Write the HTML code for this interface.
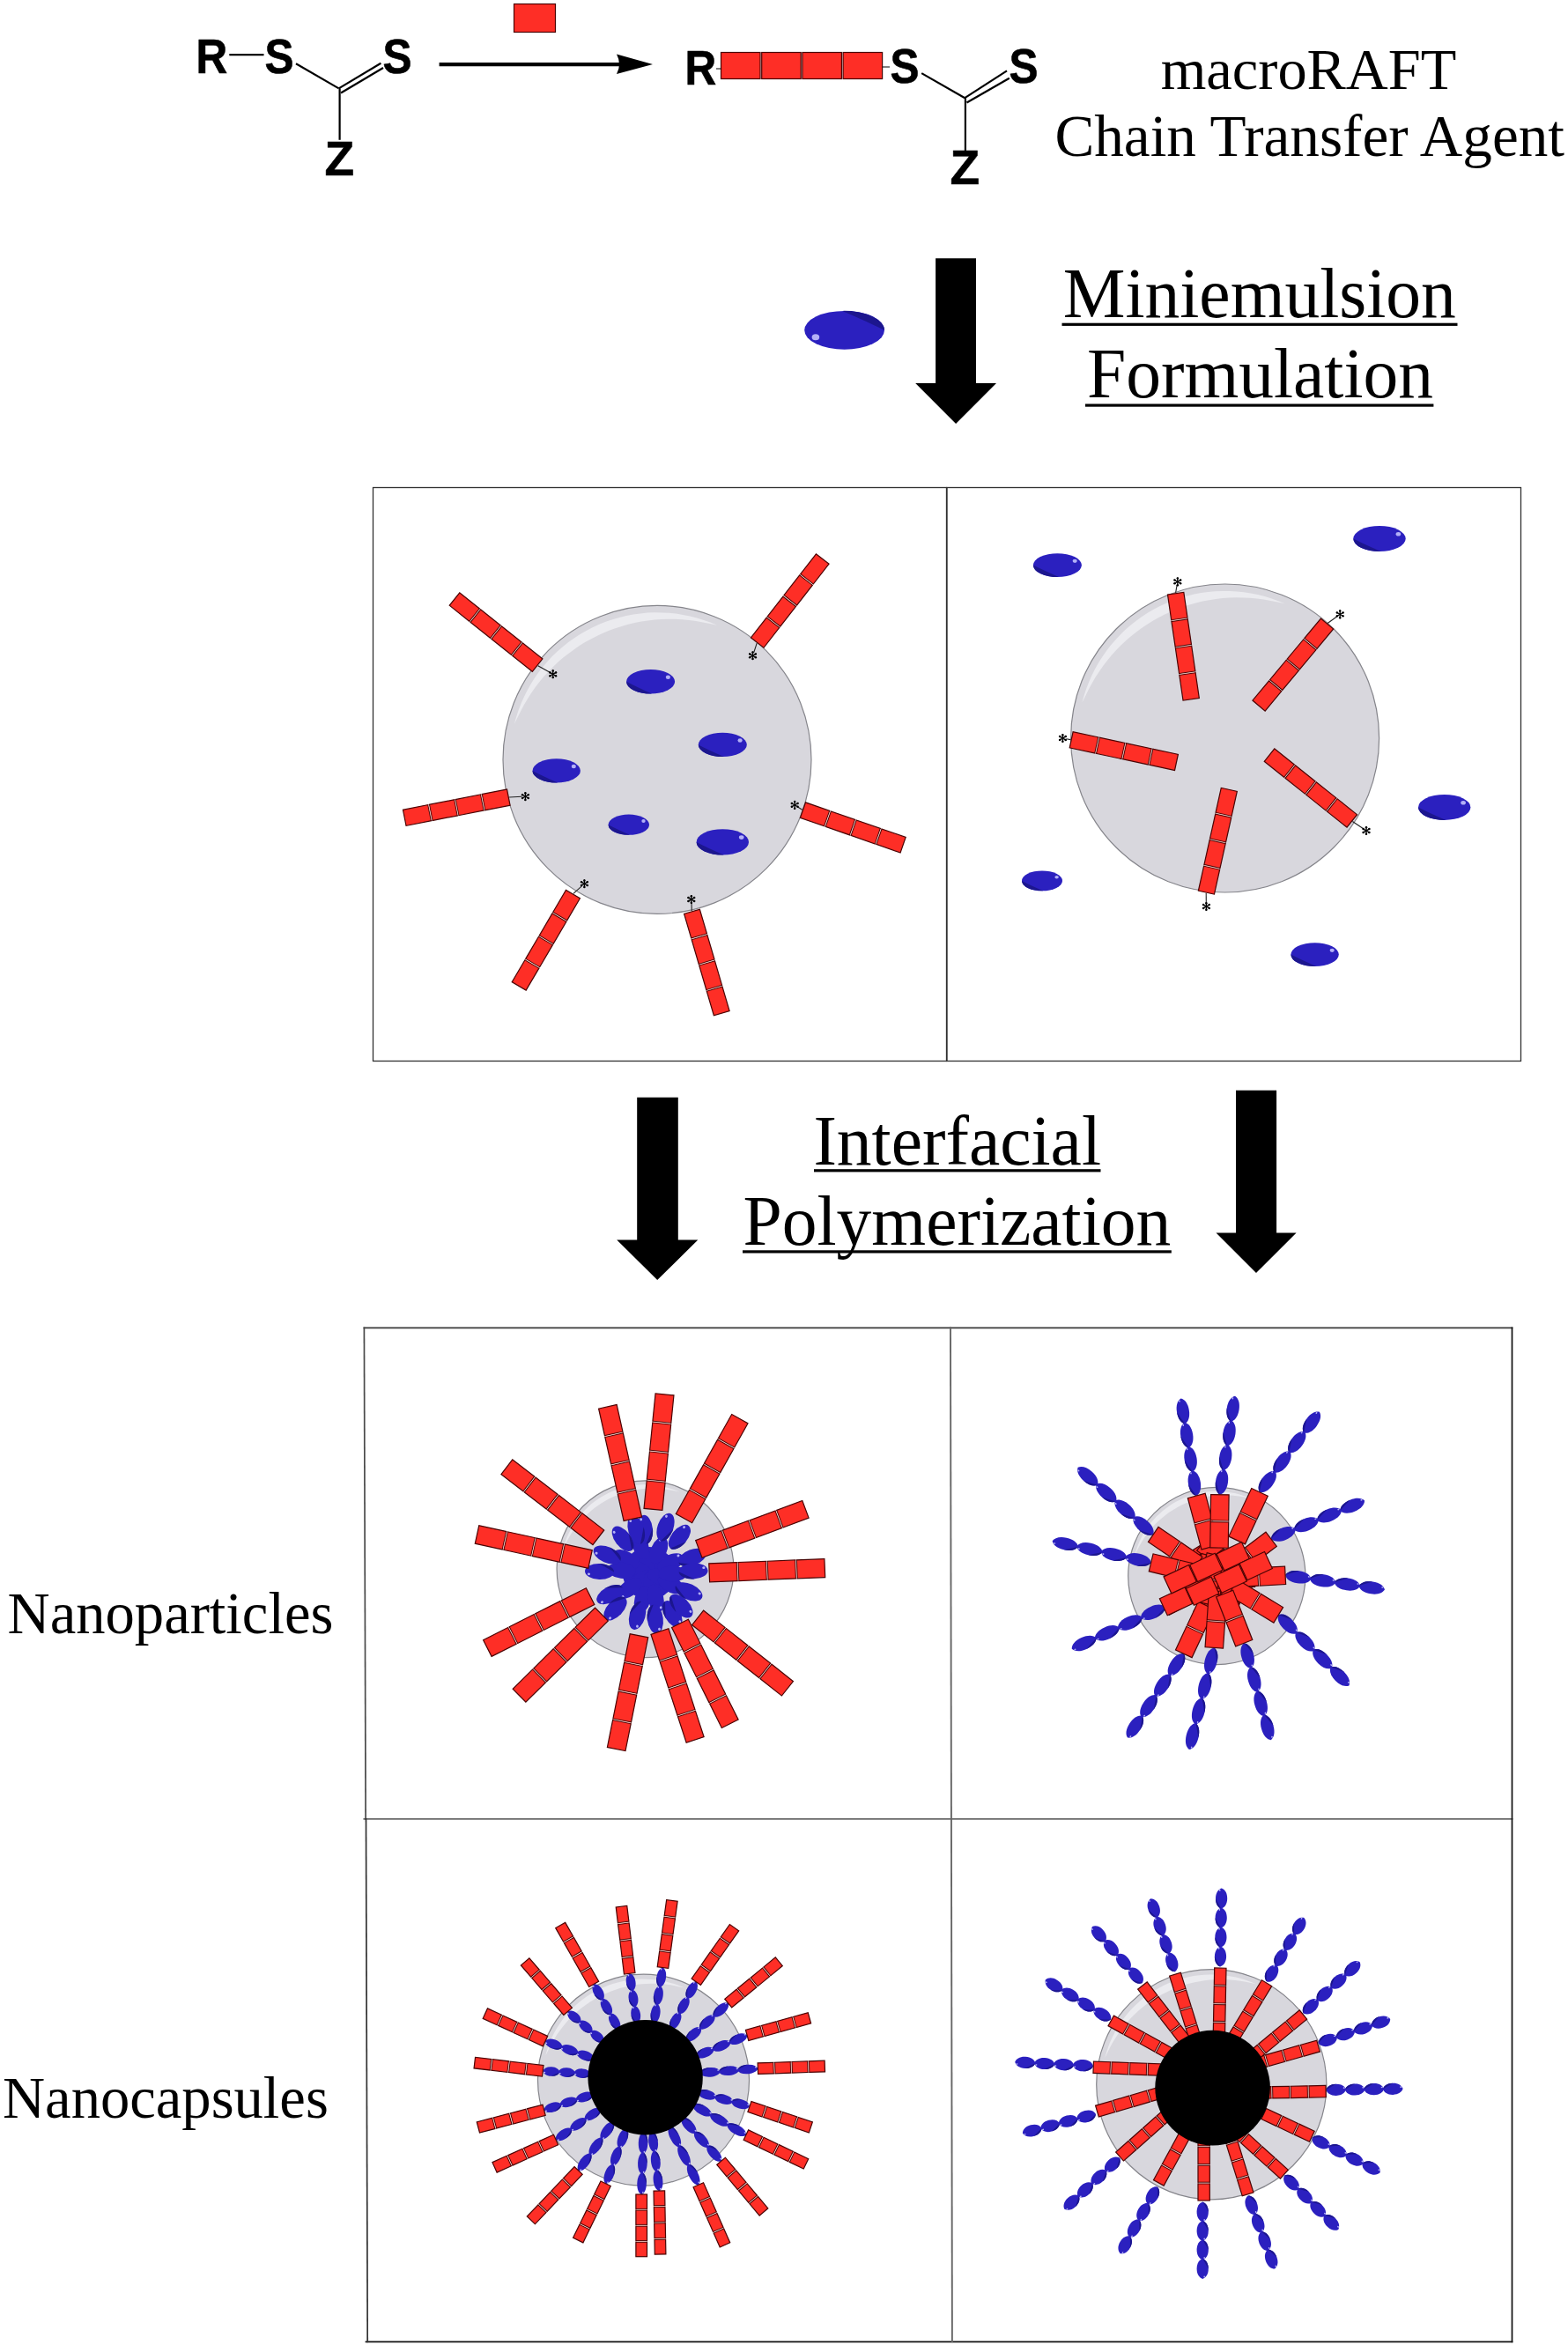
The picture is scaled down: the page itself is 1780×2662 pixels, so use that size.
<!DOCTYPE html><html><head><meta charset="utf-8"><style>
html,body{margin:0;padding:0;background:#fff;}
svg{display:block;}
.m{fill:#fe2e26;stroke:#4a0404;stroke-width:1.2;}
.b{fill:#2b20bf;}
.g{stroke:#ffd0c8;stroke-width:0.65;fill:none;}
.serif{font-family:"Liberation Serif",serif;fill:#000;}
.sans{font-family:"Liberation Sans",sans-serif;font-weight:bold;fill:#000;}
</style></head><body>
<svg width="1780" height="2662" viewBox="0 0 1780 2662">
<rect width="1780" height="2662" fill="#fff"/>

<text transform="translate(222.5 82.6) scale(0.9 1)" class="sans" font-size="55" stroke="#000" stroke-width="0.6">R</text>
<text transform="translate(300.5 82.6) scale(0.9 1)" class="sans" font-size="55" stroke="#000" stroke-width="0.6">S</text>
<text transform="translate(434.5 82.6) scale(0.9 1)" class="sans" font-size="55" stroke="#000" stroke-width="0.6">S</text>
<text transform="translate(368.5 199) scale(1 1)" class="sans" font-size="55" stroke="#000" stroke-width="0.6">Z</text>
<text transform="translate(777.5 95.8) scale(0.9 1)" class="sans" font-size="55" stroke="#000" stroke-width="0.6">R</text>
<text transform="translate(1010.5 94.4) scale(0.9 1)" class="sans" font-size="55" stroke="#000" stroke-width="0.6">S</text>
<text transform="translate(1145.5 93.5) scale(0.9 1)" class="sans" font-size="55" stroke="#000" stroke-width="0.6">S</text>
<text transform="translate(1078.5 209.4) scale(1 1)" class="sans" font-size="55" stroke="#000" stroke-width="0.6">Z</text>
<line x1="260.3" y1="62.2" x2="299.5" y2="62.2" stroke="#000" stroke-width="2.2"/>
<line x1="336" y1="72.3" x2="384.6" y2="100.4" stroke="#000" stroke-width="2.2"/>
<line x1="385.6" y1="100.4" x2="385.6" y2="158.8" stroke="#000" stroke-width="2.2"/>
<line x1="384.6" y1="100.4" x2="432.4" y2="71.7" stroke="#000" stroke-width="2.2"/>
<line x1="387" y1="105.5" x2="435" y2="77" stroke="#000" stroke-width="2.2"/>
<rect x="583.5" y="4.5" width="47" height="32" class="m"/>
<line x1="498.6" y1="73.1" x2="712" y2="73.1" stroke="#000" stroke-width="4.2"/>
<path d="M741 73 L700 61.5 Q706 73 700 84 Z" fill="#000"/>
<rect x="818.5" y="59.5" width="44.5" height="30" class="m"/>
<rect x="864.7" y="59.5" width="44.5" height="30" class="m"/>
<rect x="910.9" y="59.5" width="44.5" height="30" class="m"/>
<rect x="957.1" y="59.5" width="44.5" height="30" class="m"/>
<line x1="813" y1="78" x2="818.5" y2="78" stroke="#000" stroke-width="1"/>
<line x1="1002" y1="76" x2="1010" y2="76" stroke="#000" stroke-width="1"/>
<line x1="1046.2" y1="83.1" x2="1095.3" y2="111.2" stroke="#000" stroke-width="2.2"/>
<line x1="1095.9" y1="111.2" x2="1095.9" y2="171.5" stroke="#000" stroke-width="2.2"/>
<line x1="1095.3" y1="111.2" x2="1143" y2="80.3" stroke="#000" stroke-width="2.2"/>
<line x1="1097.5" y1="116.5" x2="1145.8" y2="88.7" stroke="#000" stroke-width="2.2"/>
<g class="serif" text-anchor="middle"><text x="1485.5" y="100.8" font-size="66.4">macroRAFT</text><text x="1486.7" y="177.3" font-size="67.2">Chain Transfer Agent</text></g>
<g transform="translate(958.6 374.8) rotate(180)"><ellipse rx="45.4" ry="21.9" class="b"/><path d="M-45.4 0A45.4 21.9 0 0 0 2.3 21.9Q-27.2 9.2 -45.4 0Z" fill="#1c168e"/><ellipse cx="32.7" cy="-7.9" rx="4.3" ry="3.5" fill="#b3b0f7"/></g>
<polygon points="1062.1,293.2 1108,293.2 1108,435 1131,435 1085.1,481 1039.2,435 1062.1,435" fill="#000"/>
<g class="serif" font-size="79.5" text-anchor="middle"><text x="1429.8" y="359.5">Miniemulsion</text><text x="1430.5" y="451.3">Formulation</text></g>
<rect x="1205.5" y="366.7" width="449" height="3.2" fill="#000"/>
<rect x="1232" y="458.5" width="395.4" height="3.2" fill="#000"/>
<rect x="423.5" y="553.5" width="651" height="651" fill="none" stroke="#303030" stroke-width="1.3"/>
<rect x="1075" y="553.5" width="651.5" height="651" fill="none" stroke="#303030" stroke-width="1.3"/>
<circle cx="746" cy="862.4" r="175" fill="#d8d7dd" stroke="#85858b" stroke-width="1.2"/>
<path d="M583.8 822 L586 814.2 L588.5 806.5 L591.4 798.9 L594.7 791.5 L598.3 784.2 L602.2 777.2 L606.5 770.3 L611.2 763.6 L616.1 757.2 L621.4 751.1 L626.9 745.1 L632.7 739.5 L638.8 734.2 L645.2 729.1 L651.7 724.4 L658.5 720 L665.5 715.9 L672.7 712.2 L680.1 708.8 L687.6 705.8 L695.3 703.2 L703.1 700.9 L710.9 699 L718.9 697.5 L726.9 696.4 L735 695.6 L743.1 695.3 L751.2 695.4 L759.3 695.8 L767.3 696.6 L775.3 697.9 L783.3 699.5 L791.1 701.5 L798.9 703.9 L806.5 706.6 L814 709.7 L814 709.7 L805.9 708 L798 706.4 L790.1 705 L782.3 704 L774.4 703.2 L766.5 702.8 L758.7 702.7 L750.9 703 L743.2 703.5 L735.6 704.4 L728 705.6 L720.5 707 L713 708.8 L705.7 710.9 L698.5 713.2 L691.4 715.8 L684.4 718.8 L677.5 721.9 L670.8 725.4 L664.1 729.1 L657.7 733.1 L651.4 737.4 L645.3 741.9 L639.3 746.6 L633.5 751.6 L627.9 756.9 L622.5 762.4 L617.3 768.1 L612.4 774.1 L607.6 780.3 L603.1 786.8 L598.8 793.4 L594.8 800.3 L591 807.4 L587.5 814.6 L583.8 822Z" fill="#ebebef"/>
<g transform="translate(738.6 773.8) rotate(0)"><ellipse rx="27.5" ry="13.8" class="b"/><path d="M-27.5 0A27.5 13.8 0 0 0 1.4 13.8Q-16.5 5.8 -27.5 0Z" fill="#1c168e"/><ellipse cx="19.8" cy="-5" rx="2.6" ry="2.2" fill="#b3b0f7"/></g>
<g transform="translate(820.3 845.4) rotate(0)"><ellipse rx="27.5" ry="13.6" class="b"/><path d="M-27.5 0A27.5 13.6 0 0 0 1.4 13.6Q-16.5 5.7 -27.5 0Z" fill="#1c168e"/><ellipse cx="19.8" cy="-4.9" rx="2.6" ry="2.2" fill="#b3b0f7"/></g>
<g transform="translate(631.7 874.9) rotate(0)"><ellipse rx="27.2" ry="13.6" class="b"/><path d="M-27.2 0A27.2 13.6 0 0 0 1.4 13.6Q-16.3 5.7 -27.2 0Z" fill="#1c168e"/><ellipse cx="19.6" cy="-4.9" rx="2.6" ry="2.2" fill="#b3b0f7"/></g>
<g transform="translate(713.8 936.2) rotate(0)"><ellipse rx="23.2" ry="11.6" class="b"/><path d="M-23.2 0A23.2 11.6 0 0 0 1.2 11.6Q-13.9 4.9 -23.2 0Z" fill="#1c168e"/><ellipse cx="16.7" cy="-4.2" rx="2.2" ry="1.9" fill="#b3b0f7"/></g>
<g transform="translate(820.3 955.9) rotate(0)"><ellipse rx="29.7" ry="14.7" class="b"/><path d="M-29.7 0A29.7 14.7 0 0 0 1.5 14.7Q-17.8 6.2 -29.7 0Z" fill="#1c168e"/><ellipse cx="21.4" cy="-5.3" rx="2.8" ry="2.4" fill="#b3b0f7"/></g>
<g transform="translate(610.7 755.7) rotate(-141.4)"><rect x="0.8" y="-9.2" width="28.9" height="18.5" class="m"/><rect x="31.3" y="-9.2" width="28.9" height="18.5" class="m"/><rect x="61.8" y="-9.2" width="28.9" height="18.5" class="m"/><rect x="92.3" y="-9.2" width="28.9" height="18.5" class="m"/><path d="M30.5 -8.6V8.6M61 -8.6V8.6M91.5 -8.6V8.6" class="g"/></g>
<line x1="610.7" y1="755.7" x2="624.2" y2="763.3" stroke="#222" stroke-width="1.1"/>
<path d="M627.7 760.5L627.7 770.1M623.5 762.9L631.9 767.7M631.9 762.9L623.5 767.7" stroke="#000" stroke-width="1.3"/><circle cx="627.7" cy="769.1" r="1.25" fill="#000"/><circle cx="627.7" cy="761.5" r="1.25" fill="#000"/><circle cx="631" cy="767.2" r="1.25" fill="#000"/><circle cx="624.4" cy="763.4" r="1.25" fill="#000"/><circle cx="624.4" cy="767.2" r="1.25" fill="#000"/><circle cx="631" cy="763.4" r="1.25" fill="#000"/>
<g transform="translate(859.2 730.2) rotate(-52.1)"><rect x="0.8" y="-9.2" width="28.9" height="18.5" class="m"/><rect x="31.3" y="-9.2" width="28.9" height="18.5" class="m"/><rect x="61.9" y="-9.2" width="28.9" height="18.5" class="m"/><rect x="92.4" y="-9.2" width="28.9" height="18.5" class="m"/><path d="M30.5 -8.6V8.6M61.1 -8.6V8.6M91.6 -8.6V8.6" class="g"/></g>
<line x1="859.2" y1="730.2" x2="855.8" y2="740.5" stroke="#222" stroke-width="1.1"/>
<path d="M854.5 739.5L854.5 749.1M850.3 741.9L858.7 746.7M858.7 741.9L850.3 746.7" stroke="#000" stroke-width="1.3"/><circle cx="854.5" cy="748.1" r="1.25" fill="#000"/><circle cx="854.5" cy="740.5" r="1.25" fill="#000"/><circle cx="857.8" cy="746.2" r="1.25" fill="#000"/><circle cx="851.2" cy="742.4" r="1.25" fill="#000"/><circle cx="851.2" cy="746.2" r="1.25" fill="#000"/><circle cx="857.8" cy="742.4" r="1.25" fill="#000"/>
<g transform="translate(578.1 905) rotate(168.9)"><rect x="0.8" y="-9.2" width="28.9" height="18.5" class="m"/><rect x="31.3" y="-9.2" width="28.9" height="18.5" class="m"/><rect x="61.7" y="-9.2" width="28.9" height="18.5" class="m"/><rect x="92.2" y="-9.2" width="28.9" height="18.5" class="m"/><path d="M30.5 -8.6V8.6M60.9 -8.6V8.6M91.4 -8.6V8.6" class="g"/></g>
<line x1="578.1" y1="905" x2="592.4" y2="904.3" stroke="#222" stroke-width="1.1"/>
<path d="M596.4 899.3L596.4 908.9M592.2 901.7L600.6 906.5M600.6 901.7L592.2 906.5" stroke="#000" stroke-width="1.3"/><circle cx="596.4" cy="907.9" r="1.25" fill="#000"/><circle cx="596.4" cy="900.3" r="1.25" fill="#000"/><circle cx="599.7" cy="906" r="1.25" fill="#000"/><circle cx="593.1" cy="902.2" r="1.25" fill="#000"/><circle cx="593.1" cy="906" r="1.25" fill="#000"/><circle cx="599.7" cy="902.2" r="1.25" fill="#000"/>
<g transform="translate(910.7 919.3) rotate(19.2)"><rect x="0.8" y="-9.2" width="28.9" height="18.5" class="m"/><rect x="31.3" y="-9.2" width="28.9" height="18.5" class="m"/><rect x="61.8" y="-9.2" width="28.9" height="18.5" class="m"/><rect x="92.3" y="-9.2" width="28.9" height="18.5" class="m"/><path d="M30.5 -8.6V8.6M61 -8.6V8.6M91.5 -8.6V8.6" class="g"/></g>
<line x1="910.7" y1="919.3" x2="905.6" y2="916" stroke="#222" stroke-width="1.1"/>
<path d="M902.2 909.1L902.2 918.7M898 911.5L906.4 916.3M906.4 911.5L898 916.3" stroke="#000" stroke-width="1.3"/><circle cx="902.2" cy="917.7" r="1.25" fill="#000"/><circle cx="902.2" cy="910.1" r="1.25" fill="#000"/><circle cx="905.5" cy="915.8" r="1.25" fill="#000"/><circle cx="898.9" cy="912" r="1.25" fill="#000"/><circle cx="898.9" cy="915.8" r="1.25" fill="#000"/><circle cx="905.5" cy="912" r="1.25" fill="#000"/>
<g transform="translate(650.9 1014.4) rotate(120.4)"><rect x="0.8" y="-9.2" width="29.1" height="18.5" class="m"/><rect x="31.5" y="-9.2" width="29.1" height="18.5" class="m"/><rect x="62.1" y="-9.2" width="29.1" height="18.5" class="m"/><rect x="92.8" y="-9.2" width="29.1" height="18.5" class="m"/><path d="M30.7 -8.6V8.6M61.3 -8.6V8.6M92 -8.6V8.6" class="g"/></g>
<line x1="650.9" y1="1014.4" x2="660.4" y2="1005.9" stroke="#222" stroke-width="1.1"/>
<path d="M663.4 998.4L663.4 1008M659.2 1000.8L667.6 1005.6M667.6 1000.8L659.2 1005.6" stroke="#000" stroke-width="1.3"/><circle cx="663.4" cy="1007" r="1.25" fill="#000"/><circle cx="663.4" cy="999.4" r="1.25" fill="#000"/><circle cx="666.7" cy="1005.1" r="1.25" fill="#000"/><circle cx="660.1" cy="1001.3" r="1.25" fill="#000"/><circle cx="660.1" cy="1005.1" r="1.25" fill="#000"/><circle cx="666.7" cy="1001.3" r="1.25" fill="#000"/>
<g transform="translate(785.3 1034) rotate(73.7)"><rect x="0.8" y="-9.2" width="28.9" height="18.5" class="m"/><rect x="31.3" y="-9.2" width="28.9" height="18.5" class="m"/><rect x="61.8" y="-9.2" width="28.9" height="18.5" class="m"/><rect x="92.2" y="-9.2" width="28.9" height="18.5" class="m"/><path d="M30.5 -8.6V8.6M61 -8.6V8.6M91.4 -8.6V8.6" class="g"/></g>
<line x1="785.3" y1="1034" x2="785" y2="1025" stroke="#222" stroke-width="1.1"/>
<path d="M784.8 1016.2L784.8 1025.8M780.6 1018.6L789 1023.4M789 1018.6L780.6 1023.4" stroke="#000" stroke-width="1.3"/><circle cx="784.8" cy="1024.8" r="1.25" fill="#000"/><circle cx="784.8" cy="1017.2" r="1.25" fill="#000"/><circle cx="788.1" cy="1022.9" r="1.25" fill="#000"/><circle cx="781.5" cy="1019.1" r="1.25" fill="#000"/><circle cx="781.5" cy="1022.9" r="1.25" fill="#000"/><circle cx="788.1" cy="1019.1" r="1.25" fill="#000"/>
<circle cx="1390.6" cy="838" r="175" fill="#d8d7dd" stroke="#85858b" stroke-width="1.2"/>
<path d="M1228.4 797.6 L1230.6 789.8 L1233.1 782.1 L1236 774.5 L1239.3 767.1 L1242.9 759.8 L1246.8 752.8 L1251.1 745.9 L1255.8 739.2 L1260.7 732.8 L1266 726.7 L1271.5 720.7 L1277.3 715.1 L1283.4 709.8 L1289.8 704.7 L1296.3 700 L1303.1 695.6 L1310.1 691.5 L1317.3 687.8 L1324.7 684.4 L1332.2 681.4 L1339.9 678.8 L1347.7 676.5 L1355.5 674.6 L1363.5 673.1 L1371.5 672 L1379.6 671.2 L1387.7 670.9 L1395.8 671 L1403.9 671.4 L1411.9 672.2 L1419.9 673.5 L1427.9 675.1 L1435.7 677.1 L1443.5 679.5 L1451.1 682.2 L1458.6 685.3 L1458.6 685.3 L1450.5 683.6 L1442.6 682 L1434.7 680.6 L1426.9 679.6 L1419 678.8 L1411.1 678.4 L1403.3 678.3 L1395.5 678.6 L1387.8 679.1 L1380.2 680 L1372.6 681.2 L1365.1 682.6 L1357.6 684.4 L1350.3 686.5 L1343.1 688.8 L1336 691.4 L1329 694.4 L1322.1 697.5 L1315.4 701 L1308.7 704.7 L1302.3 708.7 L1296 713 L1289.9 717.5 L1283.9 722.2 L1278.1 727.2 L1272.5 732.5 L1267.1 738 L1261.9 743.7 L1257 749.7 L1252.2 755.9 L1247.7 762.4 L1243.4 769 L1239.4 775.9 L1235.6 783 L1232.1 790.2 L1228.4 797.6Z" fill="#ebebef"/>
<g transform="translate(1200.4 641.6) rotate(0)"><ellipse rx="27.5" ry="13.4" class="b"/><path d="M-27.5 0A27.5 13.4 0 0 0 1.4 13.4Q-16.5 5.6 -27.5 0Z" fill="#1c168e"/><ellipse cx="19.8" cy="-4.8" rx="2.6" ry="2.1" fill="#b3b0f7"/></g>
<g transform="translate(1566 611.5) rotate(0)"><ellipse rx="29.7" ry="14.5" class="b"/><path d="M-29.7 0A29.7 14.5 0 0 0 1.5 14.5Q-17.8 6.1 -29.7 0Z" fill="#1c168e"/><ellipse cx="21.4" cy="-5.2" rx="2.8" ry="2.3" fill="#b3b0f7"/></g>
<g transform="translate(1639.7 916.4) rotate(0)"><ellipse rx="29.7" ry="14.5" class="b"/><path d="M-29.7 0A29.7 14.5 0 0 0 1.5 14.5Q-17.8 6.1 -29.7 0Z" fill="#1c168e"/><ellipse cx="21.4" cy="-5.2" rx="2.8" ry="2.3" fill="#b3b0f7"/></g>
<g transform="translate(1183 999.9) rotate(0)"><ellipse rx="23" ry="11.4" class="b"/><path d="M-23 0A23 11.4 0 0 0 1.2 11.4Q-13.8 4.8 -23 0Z" fill="#1c168e"/><ellipse cx="16.6" cy="-4.1" rx="2.2" ry="1.8" fill="#b3b0f7"/></g>
<g transform="translate(1492.6 1083.6) rotate(0)"><ellipse rx="27.2" ry="13.4" class="b"/><path d="M-27.2 0A27.2 13.4 0 0 0 1.4 13.4Q-16.3 5.6 -27.2 0Z" fill="#1c168e"/><ellipse cx="19.6" cy="-4.8" rx="2.6" ry="2.1" fill="#b3b0f7"/></g>
<g transform="translate(1334.6 672.9) rotate(81.7)"><rect x="0.8" y="-9.2" width="29.1" height="18.5" class="m"/><rect x="31.5" y="-9.2" width="29.1" height="18.5" class="m"/><rect x="62.2" y="-9.2" width="29.1" height="18.5" class="m"/><rect x="93" y="-9.2" width="29.1" height="18.5" class="m"/><path d="M30.7 -8.6V8.6M61.4 -8.6V8.6M92.2 -8.6V8.6" class="g"/></g>
<line x1="1334.6" y1="672.9" x2="1336.1" y2="664.3" stroke="#222" stroke-width="1.1"/>
<path d="M1336.8 655.6L1336.8 665.2M1332.6 658L1341 662.8M1341 658L1332.6 662.8" stroke="#000" stroke-width="1.3"/><circle cx="1336.8" cy="664.2" r="1.25" fill="#000"/><circle cx="1336.8" cy="656.6" r="1.25" fill="#000"/><circle cx="1340.1" cy="662.3" r="1.25" fill="#000"/><circle cx="1333.5" cy="658.5" r="1.25" fill="#000"/><circle cx="1333.5" cy="662.3" r="1.25" fill="#000"/><circle cx="1340.1" cy="658.5" r="1.25" fill="#000"/>
<g transform="translate(1507.1 707.5) rotate(129.8)"><rect x="0.8" y="-9.2" width="29.1" height="18.5" class="m"/><rect x="31.5" y="-9.2" width="29.1" height="18.5" class="m"/><rect x="62.1" y="-9.2" width="29.1" height="18.5" class="m"/><rect x="92.8" y="-9.2" width="29.1" height="18.5" class="m"/><path d="M30.7 -8.6V8.6M61.3 -8.6V8.6M92 -8.6V8.6" class="g"/></g>
<line x1="1507.1" y1="707.5" x2="1517.9" y2="699.7" stroke="#222" stroke-width="1.1"/>
<path d="M1521.2 692.6L1521.2 702.2M1517 695L1525.4 699.8M1525.4 695L1517 699.8" stroke="#000" stroke-width="1.3"/><circle cx="1521.2" cy="701.2" r="1.25" fill="#000"/><circle cx="1521.2" cy="693.6" r="1.25" fill="#000"/><circle cx="1524.5" cy="699.3" r="1.25" fill="#000"/><circle cx="1517.9" cy="695.5" r="1.25" fill="#000"/><circle cx="1517.9" cy="699.3" r="1.25" fill="#000"/><circle cx="1524.5" cy="695.5" r="1.25" fill="#000"/>
<g transform="translate(1215.4 839.6) rotate(12.1)"><rect x="0.8" y="-9.2" width="29.3" height="18.5" class="m"/><rect x="31.7" y="-9.2" width="29.3" height="18.5" class="m"/><rect x="62.6" y="-9.2" width="29.3" height="18.5" class="m"/><rect x="93.5" y="-9.2" width="29.3" height="18.5" class="m"/><path d="M30.9 -8.6V8.6M61.8 -8.6V8.6M92.7 -8.6V8.6" class="g"/></g>
<line x1="1215.4" y1="839.6" x2="1210.3" y2="838.7" stroke="#222" stroke-width="1.1"/>
<path d="M1206.4 833.2L1206.4 842.8M1202.2 835.6L1210.6 840.4M1210.6 835.6L1202.2 840.4" stroke="#000" stroke-width="1.3"/><circle cx="1206.4" cy="841.8" r="1.25" fill="#000"/><circle cx="1206.4" cy="834.2" r="1.25" fill="#000"/><circle cx="1209.7" cy="839.9" r="1.25" fill="#000"/><circle cx="1203.1" cy="836.1" r="1.25" fill="#000"/><circle cx="1203.1" cy="839.9" r="1.25" fill="#000"/><circle cx="1209.7" cy="836.1" r="1.25" fill="#000"/>
<g transform="translate(1535.4 932.5) rotate(-141.4)"><rect x="0.8" y="-9.2" width="28.8" height="18.5" class="m"/><rect x="31.2" y="-9.2" width="28.8" height="18.5" class="m"/><rect x="61.6" y="-9.2" width="28.8" height="18.5" class="m"/><rect x="92" y="-9.2" width="28.8" height="18.5" class="m"/><path d="M30.4 -8.6V8.6M60.8 -8.6V8.6M91.2 -8.6V8.6" class="g"/></g>
<line x1="1535.4" y1="932.5" x2="1547.7" y2="940.8" stroke="#222" stroke-width="1.1"/>
<path d="M1551 938.2L1551 947.8M1546.8 940.6L1555.2 945.4M1555.2 940.6L1546.8 945.4" stroke="#000" stroke-width="1.3"/><circle cx="1551" cy="946.8" r="1.25" fill="#000"/><circle cx="1551" cy="939.2" r="1.25" fill="#000"/><circle cx="1554.3" cy="944.9" r="1.25" fill="#000"/><circle cx="1547.7" cy="941.1" r="1.25" fill="#000"/><circle cx="1547.7" cy="944.9" r="1.25" fill="#000"/><circle cx="1554.3" cy="941.1" r="1.25" fill="#000"/>
<g transform="translate(1369.2 1013.9) rotate(-77.5)"><rect x="0.8" y="-9.2" width="28.7" height="18.5" class="m"/><rect x="31.1" y="-9.2" width="28.7" height="18.5" class="m"/><rect x="61.4" y="-9.2" width="28.7" height="18.5" class="m"/><rect x="91.7" y="-9.2" width="28.7" height="18.5" class="m"/><path d="M30.3 -8.6V8.6M60.6 -8.6V8.6M90.9 -8.6V8.6" class="g"/></g>
<line x1="1369.2" y1="1013.9" x2="1369.3" y2="1025" stroke="#222" stroke-width="1.1"/>
<path d="M1369.4 1024.2L1369.4 1033.8M1365.2 1026.6L1373.6 1031.4M1373.6 1026.6L1365.2 1031.4" stroke="#000" stroke-width="1.3"/><circle cx="1369.4" cy="1032.8" r="1.25" fill="#000"/><circle cx="1369.4" cy="1025.2" r="1.25" fill="#000"/><circle cx="1372.7" cy="1030.9" r="1.25" fill="#000"/><circle cx="1366.1" cy="1027.1" r="1.25" fill="#000"/><circle cx="1366.1" cy="1030.9" r="1.25" fill="#000"/><circle cx="1372.7" cy="1027.1" r="1.25" fill="#000"/>
<polygon points="723.2,1245.7 769.8,1245.7 769.8,1407.5 792.3,1407.5 746.2,1453 700.2,1407.5 723.2,1407.5" fill="#000"/>
<polygon points="1403,1237.7 1449.1,1237.7 1449.1,1399.5 1471.6,1399.5 1426,1445 1380.5,1399.5 1403,1399.5" fill="#000"/>
<g class="serif" font-size="79.5" text-anchor="middle"><text x="1086.7" y="1321.8">Interfacial</text><text x="1086.4" y="1412.9">Polymerization</text></g>
<rect x="924" y="1327.2" width="325.5" height="3.2" fill="#000"/>
<rect x="843" y="1419.3" width="486.8" height="3.2" fill="#000"/>
<g fill="none" stroke-width="1.7" stroke-linecap="square">
<line x1="413.4" y1="1507.3" x2="1716.5" y2="1507.3" stroke="#3a3a3a"/>
<line x1="415.5" y1="2658.4" x2="1716.5" y2="2658.4" stroke="#111"/>
<line x1="413.4" y1="2064.9" x2="1716.5" y2="2064.9" stroke="#6a6a6a" stroke-width="1.9"/>
<line x1="413.4" y1="1507.3" x2="415.1" y2="2064.9" stroke="#4a4a4a"/>
<line x1="415.5" y1="2064.9" x2="417.2" y2="2658.4" stroke="#333"/>
<line x1="1079" y1="1507.3" x2="1080.9" y2="2658.4" stroke="#666" stroke-width="1.9"/>
<line x1="1716.5" y1="1507.3" x2="1716.5" y2="2658.4" stroke="#111"/>
</g>
<g class="serif" font-size="66.6"><text x="8.6" y="1853.7">Nanoparticles</text><text x="3" y="2403.6">Nanocapsules</text></g>
<circle cx="732.5" cy="1781.2" r="100.4" fill="#d8d7dd" stroke="#85858b" stroke-width="1.2"/>
<path d="M639.5 1758 L640.7 1753.5 L642.1 1749.1 L643.8 1744.8 L645.7 1740.5 L647.8 1736.4 L650 1732.3 L652.5 1728.4 L655.1 1724.5 L658 1720.9 L661 1717.3 L664.2 1713.9 L667.5 1710.7 L671 1707.6 L674.6 1704.7 L678.4 1702 L682.3 1699.5 L686.3 1697.2 L690.5 1695 L694.7 1693.1 L699 1691.4 L703.4 1689.8 L707.9 1688.5 L712.4 1687.5 L717 1686.6 L721.6 1685.9 L726.2 1685.5 L730.8 1685.3 L735.5 1685.4 L740.1 1685.6 L744.7 1686.1 L749.3 1686.8 L753.9 1687.7 L758.4 1688.9 L762.8 1690.2 L767.2 1691.8 L771.5 1693.6 L771.5 1693.6 L766.9 1692.6 L762.4 1691.7 L757.8 1690.9 L753.3 1690.3 L748.8 1689.9 L744.3 1689.6 L739.8 1689.6 L735.3 1689.7 L730.9 1690 L726.5 1690.5 L722.2 1691.2 L717.8 1692.1 L713.6 1693.1 L709.4 1694.3 L705.2 1695.6 L701.2 1697.1 L697.1 1698.8 L693.2 1700.6 L689.3 1702.6 L685.5 1704.7 L681.8 1707 L678.2 1709.5 L674.7 1712 L671.3 1714.8 L668 1717.7 L664.7 1720.7 L661.7 1723.8 L658.7 1727.1 L655.8 1730.6 L653.1 1734.1 L650.5 1737.8 L648.1 1741.6 L645.8 1745.6 L643.6 1749.6 L641.5 1753.8 L639.5 1758Z" fill="#ebebef"/>
<circle cx="737" cy="1786" r="30" fill="#2b20bf"/>
<g transform="translate(746.2 1778.3) rotate(320)"><ellipse rx="14" ry="8.5" class="b"/><ellipse cx="10.1" cy="-3.1" rx="1.3" ry="1.4" fill="#b3b0f7"/></g>
<g transform="translate(734.9 1774.2) rotate(260)"><ellipse rx="14" ry="8.5" class="b"/><ellipse cx="10.1" cy="-3.1" rx="1.3" ry="1.4" fill="#b3b0f7"/></g>
<g transform="translate(725.7 1781.9) rotate(200)"><ellipse rx="14" ry="8.5" class="b"/><ellipse cx="10.1" cy="-3.1" rx="1.3" ry="1.4" fill="#b3b0f7"/></g>
<g transform="translate(727.8 1793.7) rotate(140)"><ellipse rx="14" ry="8.5" class="b"/><ellipse cx="10.1" cy="-3.1" rx="1.3" ry="1.4" fill="#b3b0f7"/></g>
<g transform="translate(739.1 1797.8) rotate(80)"><ellipse rx="14" ry="8.5" class="b"/><ellipse cx="10.1" cy="-3.1" rx="1.3" ry="1.4" fill="#b3b0f7"/></g>
<g transform="translate(748.3 1790.1) rotate(20)"><ellipse rx="14" ry="8.5" class="b"/><ellipse cx="10.1" cy="-3.1" rx="1.3" ry="1.4" fill="#b3b0f7"/></g>
<g transform="translate(761.1 1774) rotate(333.6)"><ellipse rx="16" ry="9" class="b"/><ellipse cx="11.5" cy="-3.2" rx="1.5" ry="1.4" fill="#b3b0f7"/></g>
<g transform="translate(747.9 1759.9) rotate(292.6)"><ellipse rx="16" ry="9" class="b"/><ellipse cx="11.5" cy="-3.2" rx="1.5" ry="1.4" fill="#b3b0f7"/></g>
<g transform="translate(727.1 1754.5) rotate(252.5)"><ellipse rx="16" ry="9" class="b"/><ellipse cx="11.5" cy="-3.2" rx="1.5" ry="1.4" fill="#b3b0f7"/></g>
<g transform="translate(710.7 1770.3) rotate(210.9)"><ellipse rx="16" ry="9" class="b"/><ellipse cx="11.5" cy="-3.2" rx="1.5" ry="1.4" fill="#b3b0f7"/></g>
<g transform="translate(705.6 1782.8) rotate(185.9)"><ellipse rx="16" ry="9" class="b"/><ellipse cx="11.5" cy="-3.2" rx="1.5" ry="1.4" fill="#b3b0f7"/></g>
<g transform="translate(714.3 1803.1) rotate(143.1)"><ellipse rx="16" ry="9" class="b"/><ellipse cx="11.5" cy="-3.2" rx="1.5" ry="1.4" fill="#b3b0f7"/></g>
<g transform="translate(729.4 1815.7) rotate(104.3)"><ellipse rx="16" ry="9" class="b"/><ellipse cx="11.5" cy="-3.2" rx="1.5" ry="1.4" fill="#b3b0f7"/></g>
<g transform="translate(744.3 1814.5) rotate(75.6)"><ellipse rx="16" ry="9" class="b"/><ellipse cx="11.5" cy="-3.2" rx="1.5" ry="1.4" fill="#b3b0f7"/></g>
<g transform="translate(761.6 1798.6) rotate(27.2)"><ellipse rx="16" ry="9" class="b"/><ellipse cx="11.5" cy="-3.2" rx="1.5" ry="1.4" fill="#b3b0f7"/></g>
<g transform="translate(763.5 1786.4) rotate(1)"><ellipse rx="16" ry="9" class="b"/><ellipse cx="11.5" cy="-3.2" rx="1.5" ry="1.4" fill="#b3b0f7"/></g>
<g transform="translate(785.8 1768) rotate(339.7)"><ellipse rx="16.5" ry="9" class="b"/><path d="M-16.5 0A16.5 9 0 0 0 0.8 9Q-9.9 3.8 -16.5 0Z" fill="#1c168e"/><ellipse cx="11.9" cy="-3.2" rx="1.6" ry="1.4" fill="#b3b0f7"/></g>
<g transform="translate(771.4 1744.8) rotate(309.9)"><ellipse rx="16.5" ry="9" class="b"/><path d="M-16.5 0A16.5 9 0 0 0 0.8 9Q-9.9 3.8 -16.5 0Z" fill="#1c168e"/><ellipse cx="11.9" cy="-3.2" rx="1.6" ry="1.4" fill="#b3b0f7"/></g>
<g transform="translate(755.5 1733.6) rotate(289.4)"><ellipse rx="16.5" ry="9" class="b"/><path d="M-16.5 0A16.5 9 0 0 0 0.8 9Q-9.9 3.8 -16.5 0Z" fill="#1c168e"/><ellipse cx="11.9" cy="-3.2" rx="1.6" ry="1.4" fill="#b3b0f7"/></g>
<g transform="translate(732 1736.3) rotate(264.3)"><ellipse rx="16.5" ry="9" class="b"/><path d="M-16.5 0A16.5 9 0 0 0 0.8 9Q-9.9 3.8 -16.5 0Z" fill="#1c168e"/><ellipse cx="11.9" cy="-3.2" rx="1.6" ry="1.4" fill="#b3b0f7"/></g>
<g transform="translate(722.2 1736.9) rotate(253.2)"><ellipse rx="16.5" ry="9" class="b"/><path d="M-16.5 0A16.5 9 0 0 0 0.8 9Q-9.9 3.8 -16.5 0Z" fill="#1c168e"/><ellipse cx="11.9" cy="-3.2" rx="1.6" ry="1.4" fill="#b3b0f7"/></g>
<g transform="translate(707 1746.8) rotate(232.6)"><ellipse rx="16.5" ry="9" class="b"/><path d="M-16.5 0A16.5 9 0 0 0 0.8 9Q-9.9 3.8 -16.5 0Z" fill="#1c168e"/><ellipse cx="11.9" cy="-3.2" rx="1.6" ry="1.4" fill="#b3b0f7"/></g>
<g transform="translate(689.2 1765) rotate(203.7)"><ellipse rx="16.5" ry="9" class="b"/><path d="M-16.5 0A16.5 9 0 0 0 0.8 9Q-9.9 3.8 -16.5 0Z" fill="#1c168e"/><ellipse cx="11.9" cy="-3.2" rx="1.6" ry="1.4" fill="#b3b0f7"/></g>
<g transform="translate(680.5 1784) rotate(182)"><ellipse rx="16.5" ry="9" class="b"/><path d="M-16.5 0A16.5 9 0 0 0 0.8 9Q-9.9 3.8 -16.5 0Z" fill="#1c168e"/><ellipse cx="11.9" cy="-3.2" rx="1.6" ry="1.4" fill="#b3b0f7"/></g>
<g transform="translate(692.4 1810.2) rotate(151.5)"><ellipse rx="16.5" ry="9" class="b"/><path d="M-16.5 0A16.5 9 0 0 0 0.8 9Q-9.9 3.8 -16.5 0Z" fill="#1c168e"/><ellipse cx="11.9" cy="-3.2" rx="1.6" ry="1.4" fill="#b3b0f7"/></g>
<g transform="translate(698.5 1826.1) rotate(133.8)"><ellipse rx="16.5" ry="9" class="b"/><path d="M-16.5 0A16.5 9 0 0 0 0.8 9Q-9.9 3.8 -16.5 0Z" fill="#1c168e"/><ellipse cx="11.9" cy="-3.2" rx="1.6" ry="1.4" fill="#b3b0f7"/></g>
<g transform="translate(723.6 1833.9) rotate(105.6)"><ellipse rx="16.5" ry="9" class="b"/><path d="M-16.5 0A16.5 9 0 0 0 0.8 9Q-9.9 3.8 -16.5 0Z" fill="#1c168e"/><ellipse cx="11.9" cy="-3.2" rx="1.6" ry="1.4" fill="#b3b0f7"/></g>
<g transform="translate(743.8 1838) rotate(82.6)"><ellipse rx="16.5" ry="9" class="b"/><path d="M-16.5 0A16.5 9 0 0 0 0.8 9Q-9.9 3.8 -16.5 0Z" fill="#1c168e"/><ellipse cx="11.9" cy="-3.2" rx="1.6" ry="1.4" fill="#b3b0f7"/></g>
<g transform="translate(763.2 1832.1) rotate(60.4)"><ellipse rx="16.5" ry="9" class="b"/><path d="M-16.5 0A16.5 9 0 0 0 0.8 9Q-9.9 3.8 -16.5 0Z" fill="#1c168e"/><ellipse cx="11.9" cy="-3.2" rx="1.6" ry="1.4" fill="#b3b0f7"/></g>
<g transform="translate(773.3 1823.1) rotate(45.6)"><ellipse rx="16.5" ry="9" class="b"/><path d="M-16.5 0A16.5 9 0 0 0 0.8 9Q-9.9 3.8 -16.5 0Z" fill="#1c168e"/><ellipse cx="11.9" cy="-3.2" rx="1.6" ry="1.4" fill="#b3b0f7"/></g>
<g transform="translate(782 1806.9) rotate(24.9)"><ellipse rx="16.5" ry="9" class="b"/><path d="M-16.5 0A16.5 9 0 0 0 0.8 9Q-9.9 3.8 -16.5 0Z" fill="#1c168e"/><ellipse cx="11.9" cy="-3.2" rx="1.6" ry="1.4" fill="#b3b0f7"/></g>
<g transform="translate(787.1 1783.5) rotate(-2.8)"><ellipse rx="16.5" ry="9" class="b"/><path d="M-16.5 0A16.5 9 0 0 0 0.8 9Q-9.9 3.8 -16.5 0Z" fill="#1c168e"/><ellipse cx="11.9" cy="-3.2" rx="1.6" ry="1.4" fill="#b3b0f7"/></g>
<g transform="translate(741.4 1714.2) rotate(-84.3)"><rect x="0.8" y="-10.5" width="31.6" height="21" class="m"/><rect x="34" y="-10.5" width="31.6" height="21" class="m"/><rect x="67.2" y="-10.5" width="31.6" height="21" class="m"/><rect x="100.4" y="-10.5" width="31.6" height="21" class="m"/><path d="M33.2 -9.8V9.8M66.4 -9.8V9.8M99.6 -9.8V9.8" class="g"/></g>
<g transform="translate(718.5 1725) rotate(-102.6)"><rect x="0.8" y="-10.5" width="31.4" height="21" class="m"/><rect x="33.8" y="-10.5" width="31.4" height="21" class="m"/><rect x="66.9" y="-10.5" width="31.4" height="21" class="m"/><rect x="99.9" y="-10.5" width="31.4" height="21" class="m"/><path d="M33 -9.8V9.8M66.1 -9.8V9.8M99.1 -9.8V9.8" class="g"/></g>
<g transform="translate(776.1 1724.3) rotate(-60.7)"><rect x="0.8" y="-10.5" width="31.2" height="21" class="m"/><rect x="33.6" y="-10.5" width="31.2" height="21" class="m"/><rect x="66.3" y="-10.5" width="31.2" height="21" class="m"/><rect x="99.1" y="-10.5" width="31.2" height="21" class="m"/><path d="M32.8 -9.8V9.8M65.5 -9.8V9.8M98.3 -9.8V9.8" class="g"/></g>
<g transform="translate(680 1745.8) rotate(-142.4)"><rect x="0.8" y="-10.5" width="31.6" height="21" class="m"/><rect x="34" y="-10.5" width="31.6" height="21" class="m"/><rect x="67.3" y="-10.5" width="31.6" height="21" class="m"/><rect x="100.5" y="-10.5" width="31.6" height="21" class="m"/><path d="M33.2 -9.8V9.8M66.5 -9.8V9.8M99.7 -9.8V9.8" class="g"/></g>
<g transform="translate(670.8 1770.2) rotate(-167.7)"><rect x="0.8" y="-10.5" width="31.7" height="21" class="m"/><rect x="34.1" y="-10.5" width="31.7" height="21" class="m"/><rect x="67.3" y="-10.5" width="31.7" height="21" class="m"/><rect x="100.6" y="-10.5" width="31.7" height="21" class="m"/><path d="M33.3 -9.8V9.8M66.5 -9.8V9.8M99.8 -9.8V9.8" class="g"/></g>
<g transform="translate(792.6 1758.7) rotate(-20.4)"><rect x="0.8" y="-10.5" width="31.1" height="21" class="m"/><rect x="33.5" y="-10.5" width="31.1" height="21" class="m"/><rect x="66.2" y="-10.5" width="31.1" height="21" class="m"/><rect x="98.9" y="-10.5" width="31.1" height="21" class="m"/><path d="M32.7 -9.8V9.8M65.4 -9.8V9.8M98.1 -9.8V9.8" class="g"/></g>
<g transform="translate(804.4 1785.4) rotate(-2.3)"><rect x="0.8" y="-10.5" width="31.6" height="21" class="m"/><rect x="34" y="-10.5" width="31.6" height="21" class="m"/><rect x="67.2" y="-10.5" width="31.6" height="21" class="m"/><rect x="100.4" y="-10.5" width="31.6" height="21" class="m"/><path d="M33.2 -9.8V9.8M66.4 -9.8V9.8M99.6 -9.8V9.8" class="g"/></g>
<g transform="translate(670.8 1811.7) rotate(153.2)"><rect x="0.8" y="-10.5" width="31.5" height="21" class="m"/><rect x="33.9" y="-10.5" width="31.5" height="21" class="m"/><rect x="67" y="-10.5" width="31.5" height="21" class="m"/><rect x="100.1" y="-10.5" width="31.5" height="21" class="m"/><path d="M33.1 -9.8V9.8M66.2 -9.8V9.8M99.3 -9.8V9.8" class="g"/></g>
<g transform="translate(683.5 1832) rotate(135.4)"><rect x="0.8" y="-10.5" width="31.6" height="21" class="m"/><rect x="34" y="-10.5" width="31.6" height="21" class="m"/><rect x="67.2" y="-10.5" width="31.6" height="21" class="m"/><rect x="100.4" y="-10.5" width="31.6" height="21" class="m"/><path d="M33.2 -9.8V9.8M66.4 -9.8V9.8M99.6 -9.8V9.8" class="g"/></g>
<g transform="translate(725.6 1856) rotate(101.3)"><rect x="0.8" y="-10.5" width="31.6" height="21" class="m"/><rect x="34" y="-10.5" width="31.6" height="21" class="m"/><rect x="67.3" y="-10.5" width="31.6" height="21" class="m"/><rect x="100.5" y="-10.5" width="31.6" height="21" class="m"/><path d="M33.2 -9.8V9.8M66.5 -9.8V9.8M99.7 -9.8V9.8" class="g"/></g>
<g transform="translate(748.7 1851.3) rotate(71.9)"><rect x="0.8" y="-10.5" width="31.1" height="21" class="m"/><rect x="33.5" y="-10.5" width="31.1" height="21" class="m"/><rect x="66.3" y="-10.5" width="31.1" height="21" class="m"/><rect x="99" y="-10.5" width="31.1" height="21" class="m"/><path d="M32.7 -9.8V9.8M65.5 -9.8V9.8M98.2 -9.8V9.8" class="g"/></g>
<g transform="translate(771.6 1842.2) rotate(63.5)"><rect x="0.8" y="-10.5" width="30.6" height="21" class="m"/><rect x="33" y="-10.5" width="30.6" height="21" class="m"/><rect x="65.2" y="-10.5" width="30.6" height="21" class="m"/><rect x="97.4" y="-10.5" width="30.6" height="21" class="m"/><path d="M32.2 -9.8V9.8M64.4 -9.8V9.8M96.6 -9.8V9.8" class="g"/></g>
<g transform="translate(791.5 1835.9) rotate(38.3)"><rect x="0.8" y="-10.5" width="31.2" height="21" class="m"/><rect x="33.6" y="-10.5" width="31.2" height="21" class="m"/><rect x="66.5" y="-10.5" width="31.2" height="21" class="m"/><rect x="99.3" y="-10.5" width="31.2" height="21" class="m"/><path d="M32.8 -9.8V9.8M65.7 -9.8V9.8M98.5 -9.8V9.8" class="g"/></g>
<circle cx="1381.3" cy="1789" r="100.6" fill="#d8d7dd" stroke="#85858b" stroke-width="1.2"/>
<path d="M1288.1 1765.8 L1289.3 1761.3 L1290.8 1756.8 L1292.4 1752.5 L1294.3 1748.2 L1296.4 1744.1 L1298.7 1740 L1301.1 1736.1 L1303.8 1732.2 L1306.6 1728.5 L1309.7 1725 L1312.8 1721.6 L1316.2 1718.4 L1319.7 1715.3 L1323.3 1712.4 L1327.1 1709.7 L1331 1707.1 L1335 1704.8 L1339.2 1702.7 L1343.4 1700.7 L1347.7 1699 L1352.1 1697.5 L1356.6 1696.2 L1361.1 1695.1 L1365.7 1694.2 L1370.3 1693.6 L1375 1693.1 L1379.6 1692.9 L1384.3 1693 L1388.9 1693.2 L1393.6 1693.7 L1398.2 1694.4 L1402.7 1695.3 L1407.2 1696.5 L1411.7 1697.9 L1416.1 1699.4 L1420.4 1701.2 L1420.4 1701.2 L1415.8 1700.3 L1411.2 1699.3 L1406.7 1698.5 L1402.1 1697.9 L1397.6 1697.5 L1393.1 1697.3 L1388.6 1697.2 L1384.1 1697.4 L1379.7 1697.7 L1375.3 1698.2 L1370.9 1698.8 L1366.6 1699.7 L1362.4 1700.7 L1358.1 1701.9 L1354 1703.2 L1349.9 1704.8 L1345.9 1706.4 L1341.9 1708.3 L1338 1710.2 L1334.2 1712.4 L1330.5 1714.7 L1326.9 1717.1 L1323.4 1719.7 L1320 1722.4 L1316.6 1725.3 L1313.4 1728.3 L1310.3 1731.5 L1307.3 1734.8 L1304.5 1738.3 L1301.7 1741.8 L1299.2 1745.5 L1296.7 1749.4 L1294.4 1753.3 L1292.2 1757.4 L1290.2 1761.5 L1288.1 1765.8Z" fill="#ebebef"/>
<g transform="translate(1342.9 1601.8) rotate(80.9)"><path d="M-14.6 0C-12.9 -4.1 -8 -7 0 -7C8 -7 12.9 -4.1 14.6 0C12.9 4.1 8 7 0 7C-8 7 -12.9 4.1 -14.6 0Z" class="b"/><path d="M14.6 0C12.9 4.1 8 7 0 7C4.4 4.9 8.8 3.1 14.6 0Z" fill="#1c168e"/><ellipse cx="-11.7" cy="2.1" rx="1.1" ry="0.8" fill="#b3b0f7"/></g>
<g transform="translate(1347.2 1629.1) rotate(80.9)"><path d="M-14.6 0C-12.9 -4.1 -8 -7 0 -7C8 -7 12.9 -4.1 14.6 0C12.9 4.1 8 7 0 7C-8 7 -12.9 4.1 -14.6 0Z" class="b"/><path d="M14.6 0C12.9 4.1 8 7 0 7C4.4 4.9 8.8 3.1 14.6 0Z" fill="#1c168e"/><ellipse cx="-11.7" cy="2.1" rx="1.1" ry="0.8" fill="#b3b0f7"/></g>
<g transform="translate(1351.6 1656.3) rotate(80.9)"><path d="M-14.6 0C-12.9 -4.1 -8 -7 0 -7C8 -7 12.9 -4.1 14.6 0C12.9 4.1 8 7 0 7C-8 7 -12.9 4.1 -14.6 0Z" class="b"/><path d="M14.6 0C12.9 4.1 8 7 0 7C4.4 4.9 8.8 3.1 14.6 0Z" fill="#1c168e"/><ellipse cx="-11.7" cy="2.1" rx="1.1" ry="0.8" fill="#b3b0f7"/></g>
<g transform="translate(1355.9 1683.6) rotate(80.9)"><path d="M-14.6 0C-12.9 -4.1 -8 -7 0 -7C8 -7 12.9 -4.1 14.6 0C12.9 4.1 8 7 0 7C-8 7 -12.9 4.1 -14.6 0Z" class="b"/><path d="M14.6 0C12.9 4.1 8 7 0 7C4.4 4.9 8.8 3.1 14.6 0Z" fill="#1c168e"/><ellipse cx="-11.7" cy="2.1" rx="1.1" ry="0.8" fill="#b3b0f7"/></g>
<g transform="translate(1399.7 1599.3) rotate(98.7)"><path d="M-14.8 0C-13 -4.1 -8.1 -7 0 -7C8.1 -7 13 -4.1 14.8 0C13 4.1 8.1 7 0 7C-8.1 7 -13 4.1 -14.8 0Z" class="b"/><path d="M14.8 0C13 4.1 8.1 7 0 7C4.4 4.9 8.9 3.1 14.8 0Z" fill="#1c168e"/><ellipse cx="-11.8" cy="2.1" rx="1.1" ry="0.8" fill="#b3b0f7"/></g>
<g transform="translate(1395.5 1626.9) rotate(98.7)"><path d="M-14.8 0C-13 -4.1 -8.1 -7 0 -7C8.1 -7 13 -4.1 14.8 0C13 4.1 8.1 7 0 7C-8.1 7 -13 4.1 -14.8 0Z" class="b"/><path d="M14.8 0C13 4.1 8.1 7 0 7C4.4 4.9 8.9 3.1 14.8 0Z" fill="#1c168e"/><ellipse cx="-11.8" cy="2.1" rx="1.1" ry="0.8" fill="#b3b0f7"/></g>
<g transform="translate(1391.2 1654.5) rotate(98.7)"><path d="M-14.8 0C-13 -4.1 -8.1 -7 0 -7C8.1 -7 13 -4.1 14.8 0C13 4.1 8.1 7 0 7C-8.1 7 -13 4.1 -14.8 0Z" class="b"/><path d="M14.8 0C13 4.1 8.1 7 0 7C4.4 4.9 8.9 3.1 14.8 0Z" fill="#1c168e"/><ellipse cx="-11.8" cy="2.1" rx="1.1" ry="0.8" fill="#b3b0f7"/></g>
<g transform="translate(1387 1682.1) rotate(98.7)"><path d="M-14.8 0C-13 -4.1 -8.1 -7 0 -7C8.1 -7 13 -4.1 14.8 0C13 4.1 8.1 7 0 7C-8.1 7 -13 4.1 -14.8 0Z" class="b"/><path d="M14.8 0C13 4.1 8.1 7 0 7C4.4 4.9 8.9 3.1 14.8 0Z" fill="#1c168e"/><ellipse cx="-11.8" cy="2.1" rx="1.1" ry="0.8" fill="#b3b0f7"/></g>
<g transform="translate(1489 1614.7) rotate(126.8)"><path d="M-14.8 0C-13.1 -4.1 -8.2 -7 0 -7C8.2 -7 13.1 -4.1 14.8 0C13.1 4.1 8.2 7 0 7C-8.2 7 -13.1 4.1 -14.8 0Z" class="b"/><path d="M14.8 0C13.1 4.1 8.2 7 0 7C4.5 4.9 8.9 3.1 14.8 0Z" fill="#1c168e"/><ellipse cx="-11.9" cy="2.1" rx="1.1" ry="0.8" fill="#b3b0f7"/></g>
<g transform="translate(1472.3 1637.1) rotate(126.8)"><path d="M-14.8 0C-13.1 -4.1 -8.2 -7 0 -7C8.2 -7 13.1 -4.1 14.8 0C13.1 4.1 8.2 7 0 7C-8.2 7 -13.1 4.1 -14.8 0Z" class="b"/><path d="M14.8 0C13.1 4.1 8.2 7 0 7C4.5 4.9 8.9 3.1 14.8 0Z" fill="#1c168e"/><ellipse cx="-11.9" cy="2.1" rx="1.1" ry="0.8" fill="#b3b0f7"/></g>
<g transform="translate(1455.5 1659.6) rotate(126.8)"><path d="M-14.8 0C-13.1 -4.1 -8.2 -7 0 -7C8.2 -7 13.1 -4.1 14.8 0C13.1 4.1 8.2 7 0 7C-8.2 7 -13.1 4.1 -14.8 0Z" class="b"/><path d="M14.8 0C13.1 4.1 8.2 7 0 7C4.5 4.9 8.9 3.1 14.8 0Z" fill="#1c168e"/><ellipse cx="-11.9" cy="2.1" rx="1.1" ry="0.8" fill="#b3b0f7"/></g>
<g transform="translate(1438.8 1682) rotate(126.8)"><path d="M-14.8 0C-13.1 -4.1 -8.2 -7 0 -7C8.2 -7 13.1 -4.1 14.8 0C13.1 4.1 8.2 7 0 7C-8.2 7 -13.1 4.1 -14.8 0Z" class="b"/><path d="M14.8 0C13.1 4.1 8.2 7 0 7C4.5 4.9 8.9 3.1 14.8 0Z" fill="#1c168e"/><ellipse cx="-11.9" cy="2.1" rx="1.1" ry="0.8" fill="#b3b0f7"/></g>
<g transform="translate(1234.8 1675.8) rotate(41.6)"><path d="M-15 0C-13.2 -4.1 -8.2 -7 0 -7C8.2 -7 13.2 -4.1 15 0C13.2 4.1 8.2 7 0 7C-8.2 7 -13.2 4.1 -15 0Z" class="b"/><path d="M15 0C13.2 4.1 8.2 7 0 7C4.5 4.9 9 3.1 15 0Z" fill="#1c168e"/><ellipse cx="-12" cy="2.1" rx="1.1" ry="0.8" fill="#b3b0f7"/></g>
<g transform="translate(1255.8 1694.5) rotate(41.6)"><path d="M-15 0C-13.2 -4.1 -8.2 -7 0 -7C8.2 -7 13.2 -4.1 15 0C13.2 4.1 8.2 7 0 7C-8.2 7 -13.2 4.1 -15 0Z" class="b"/><path d="M15 0C13.2 4.1 8.2 7 0 7C4.5 4.9 9 3.1 15 0Z" fill="#1c168e"/><ellipse cx="-12" cy="2.1" rx="1.1" ry="0.8" fill="#b3b0f7"/></g>
<g transform="translate(1277 1713.3) rotate(41.6)"><path d="M-15 0C-13.2 -4.1 -8.2 -7 0 -7C8.2 -7 13.2 -4.1 15 0C13.2 4.1 8.2 7 0 7C-8.2 7 -13.2 4.1 -15 0Z" class="b"/><path d="M15 0C13.2 4.1 8.2 7 0 7C4.5 4.9 9 3.1 15 0Z" fill="#1c168e"/><ellipse cx="-12" cy="2.1" rx="1.1" ry="0.8" fill="#b3b0f7"/></g>
<g transform="translate(1298 1732) rotate(41.6)"><path d="M-15 0C-13.2 -4.1 -8.2 -7 0 -7C8.2 -7 13.2 -4.1 15 0C13.2 4.1 8.2 7 0 7C-8.2 7 -13.2 4.1 -15 0Z" class="b"/><path d="M15 0C13.2 4.1 8.2 7 0 7C4.5 4.9 9 3.1 15 0Z" fill="#1c168e"/><ellipse cx="-12" cy="2.1" rx="1.1" ry="0.8" fill="#b3b0f7"/></g>
<g transform="translate(1209.3 1752.5) rotate(12.3)"><path d="M-15 0C-13.2 -4.1 -8.2 -7 0 -7C8.2 -7 13.2 -4.1 15 0C13.2 4.1 8.2 7 0 7C-8.2 7 -13.2 4.1 -15 0Z" class="b"/><path d="M15 0C13.2 4.1 8.2 7 0 7C4.5 4.9 9 3.1 15 0Z" fill="#1c168e"/><ellipse cx="-12" cy="2.1" rx="1.1" ry="0.8" fill="#b3b0f7"/></g>
<g transform="translate(1236.9 1758.5) rotate(12.3)"><path d="M-15 0C-13.2 -4.1 -8.2 -7 0 -7C8.2 -7 13.2 -4.1 15 0C13.2 4.1 8.2 7 0 7C-8.2 7 -13.2 4.1 -15 0Z" class="b"/><path d="M15 0C13.2 4.1 8.2 7 0 7C4.5 4.9 9 3.1 15 0Z" fill="#1c168e"/><ellipse cx="-12" cy="2.1" rx="1.1" ry="0.8" fill="#b3b0f7"/></g>
<g transform="translate(1264.5 1764.6) rotate(12.3)"><path d="M-15 0C-13.2 -4.1 -8.2 -7 0 -7C8.2 -7 13.2 -4.1 15 0C13.2 4.1 8.2 7 0 7C-8.2 7 -13.2 4.1 -15 0Z" class="b"/><path d="M15 0C13.2 4.1 8.2 7 0 7C4.5 4.9 9 3.1 15 0Z" fill="#1c168e"/><ellipse cx="-12" cy="2.1" rx="1.1" ry="0.8" fill="#b3b0f7"/></g>
<g transform="translate(1292.1 1770.6) rotate(12.3)"><path d="M-15 0C-13.2 -4.1 -8.2 -7 0 -7C8.2 -7 13.2 -4.1 15 0C13.2 4.1 8.2 7 0 7C-8.2 7 -13.2 4.1 -15 0Z" class="b"/><path d="M15 0C13.2 4.1 8.2 7 0 7C4.5 4.9 9 3.1 15 0Z" fill="#1c168e"/><ellipse cx="-12" cy="2.1" rx="1.1" ry="0.8" fill="#b3b0f7"/></g>
<g transform="translate(1535.2 1709.3) rotate(157.7)"><path d="M-15 0C-13.2 -4.1 -8.2 -7 0 -7C8.2 -7 13.2 -4.1 15 0C13.2 4.1 8.2 7 0 7C-8.2 7 -13.2 4.1 -15 0Z" class="b"/><path d="M15 0C13.2 4.1 8.2 7 0 7C4.5 4.9 9 3.1 15 0Z" fill="#1c168e"/><ellipse cx="-12" cy="2.1" rx="1.1" ry="0.8" fill="#b3b0f7"/></g>
<g transform="translate(1509.1 1720) rotate(157.7)"><path d="M-15 0C-13.2 -4.1 -8.2 -7 0 -7C8.2 -7 13.2 -4.1 15 0C13.2 4.1 8.2 7 0 7C-8.2 7 -13.2 4.1 -15 0Z" class="b"/><path d="M15 0C13.2 4.1 8.2 7 0 7C4.5 4.9 9 3.1 15 0Z" fill="#1c168e"/><ellipse cx="-12" cy="2.1" rx="1.1" ry="0.8" fill="#b3b0f7"/></g>
<g transform="translate(1483 1730.7) rotate(157.7)"><path d="M-15 0C-13.2 -4.1 -8.2 -7 0 -7C8.2 -7 13.2 -4.1 15 0C13.2 4.1 8.2 7 0 7C-8.2 7 -13.2 4.1 -15 0Z" class="b"/><path d="M15 0C13.2 4.1 8.2 7 0 7C4.5 4.9 9 3.1 15 0Z" fill="#1c168e"/><ellipse cx="-12" cy="2.1" rx="1.1" ry="0.8" fill="#b3b0f7"/></g>
<g transform="translate(1456.9 1741.4) rotate(157.7)"><path d="M-15 0C-13.2 -4.1 -8.2 -7 0 -7C8.2 -7 13.2 -4.1 15 0C13.2 4.1 8.2 7 0 7C-8.2 7 -13.2 4.1 -15 0Z" class="b"/><path d="M15 0C13.2 4.1 8.2 7 0 7C4.5 4.9 9 3.1 15 0Z" fill="#1c168e"/><ellipse cx="-12" cy="2.1" rx="1.1" ry="0.8" fill="#b3b0f7"/></g>
<g transform="translate(1557.2 1802.4) rotate(-171.8)"><path d="M-14.9 0C-13.1 -4.1 -8.2 -7 0 -7C8.2 -7 13.1 -4.1 14.9 0C13.1 4.1 8.2 7 0 7C-8.2 7 -13.1 4.1 -14.9 0Z" class="b"/><path d="M14.9 0C13.1 4.1 8.2 7 0 7C4.5 4.9 8.9 3.1 14.9 0Z" fill="#1c168e"/><ellipse cx="-11.9" cy="2.1" rx="1.1" ry="0.8" fill="#b3b0f7"/></g>
<g transform="translate(1529.4 1798.4) rotate(-171.8)"><path d="M-14.9 0C-13.1 -4.1 -8.2 -7 0 -7C8.2 -7 13.1 -4.1 14.9 0C13.1 4.1 8.2 7 0 7C-8.2 7 -13.1 4.1 -14.9 0Z" class="b"/><path d="M14.9 0C13.1 4.1 8.2 7 0 7C4.5 4.9 8.9 3.1 14.9 0Z" fill="#1c168e"/><ellipse cx="-11.9" cy="2.1" rx="1.1" ry="0.8" fill="#b3b0f7"/></g>
<g transform="translate(1501.6 1794.3) rotate(-171.8)"><path d="M-14.9 0C-13.1 -4.1 -8.2 -7 0 -7C8.2 -7 13.1 -4.1 14.9 0C13.1 4.1 8.2 7 0 7C-8.2 7 -13.1 4.1 -14.9 0Z" class="b"/><path d="M14.9 0C13.1 4.1 8.2 7 0 7C4.5 4.9 8.9 3.1 14.9 0Z" fill="#1c168e"/><ellipse cx="-11.9" cy="2.1" rx="1.1" ry="0.8" fill="#b3b0f7"/></g>
<g transform="translate(1473.8 1790.3) rotate(-171.8)"><path d="M-14.9 0C-13.1 -4.1 -8.2 -7 0 -7C8.2 -7 13.1 -4.1 14.9 0C13.1 4.1 8.2 7 0 7C-8.2 7 -13.1 4.1 -14.9 0Z" class="b"/><path d="M14.9 0C13.1 4.1 8.2 7 0 7C4.5 4.9 8.9 3.1 14.9 0Z" fill="#1c168e"/><ellipse cx="-11.9" cy="2.1" rx="1.1" ry="0.8" fill="#b3b0f7"/></g>
<g transform="translate(1230.6 1865.5) rotate(-24.1)"><path d="M-15.2 0C-13.4 -4.1 -8.3 -7 0 -7C8.3 -7 13.4 -4.1 15.2 0C13.4 4.1 8.3 7 0 7C-8.3 7 -13.4 4.1 -15.2 0Z" class="b"/><path d="M15.2 0C13.4 4.1 8.3 7 0 7C4.6 4.9 9.1 3.1 15.2 0Z" fill="#1c168e"/><ellipse cx="-12.1" cy="2.1" rx="1.1" ry="0.8" fill="#b3b0f7"/></g>
<g transform="translate(1256.7 1853.8) rotate(-24.1)"><path d="M-15.2 0C-13.4 -4.1 -8.3 -7 0 -7C8.3 -7 13.4 -4.1 15.2 0C13.4 4.1 8.3 7 0 7C-8.3 7 -13.4 4.1 -15.2 0Z" class="b"/><path d="M15.2 0C13.4 4.1 8.3 7 0 7C4.6 4.9 9.1 3.1 15.2 0Z" fill="#1c168e"/><ellipse cx="-12.1" cy="2.1" rx="1.1" ry="0.8" fill="#b3b0f7"/></g>
<g transform="translate(1282.8 1842) rotate(-24.1)"><path d="M-15.2 0C-13.4 -4.1 -8.3 -7 0 -7C8.3 -7 13.4 -4.1 15.2 0C13.4 4.1 8.3 7 0 7C-8.3 7 -13.4 4.1 -15.2 0Z" class="b"/><path d="M15.2 0C13.4 4.1 8.3 7 0 7C4.6 4.9 9.1 3.1 15.2 0Z" fill="#1c168e"/><ellipse cx="-12.1" cy="2.1" rx="1.1" ry="0.8" fill="#b3b0f7"/></g>
<g transform="translate(1308.9 1830.3) rotate(-24.1)"><path d="M-15.2 0C-13.4 -4.1 -8.3 -7 0 -7C8.3 -7 13.4 -4.1 15.2 0C13.4 4.1 8.3 7 0 7C-8.3 7 -13.4 4.1 -15.2 0Z" class="b"/><path d="M15.2 0C13.4 4.1 8.3 7 0 7C4.6 4.9 9.1 3.1 15.2 0Z" fill="#1c168e"/><ellipse cx="-12.1" cy="2.1" rx="1.1" ry="0.8" fill="#b3b0f7"/></g>
<g transform="translate(1521 1903) rotate(-135)"><path d="M-14.8 0C-13 -4.1 -8.1 -7 0 -7C8.1 -7 13 -4.1 14.8 0C13 4.1 8.1 7 0 7C-8.1 7 -13 4.1 -14.8 0Z" class="b"/><path d="M14.8 0C13 4.1 8.1 7 0 7C4.4 4.9 8.9 3.1 14.8 0Z" fill="#1c168e"/><ellipse cx="-11.9" cy="2.1" rx="1.1" ry="0.8" fill="#b3b0f7"/></g>
<g transform="translate(1501.3 1883.2) rotate(-135)"><path d="M-14.8 0C-13 -4.1 -8.1 -7 0 -7C8.1 -7 13 -4.1 14.8 0C13 4.1 8.1 7 0 7C-8.1 7 -13 4.1 -14.8 0Z" class="b"/><path d="M14.8 0C13 4.1 8.1 7 0 7C4.4 4.9 8.9 3.1 14.8 0Z" fill="#1c168e"/><ellipse cx="-11.9" cy="2.1" rx="1.1" ry="0.8" fill="#b3b0f7"/></g>
<g transform="translate(1481.5 1863.5) rotate(-135)"><path d="M-14.8 0C-13 -4.1 -8.1 -7 0 -7C8.1 -7 13 -4.1 14.8 0C13 4.1 8.1 7 0 7C-8.1 7 -13 4.1 -14.8 0Z" class="b"/><path d="M14.8 0C13 4.1 8.1 7 0 7C4.4 4.9 8.9 3.1 14.8 0Z" fill="#1c168e"/><ellipse cx="-11.9" cy="2.1" rx="1.1" ry="0.8" fill="#b3b0f7"/></g>
<g transform="translate(1461.8 1843.7) rotate(-135)"><path d="M-14.8 0C-13 -4.1 -8.1 -7 0 -7C8.1 -7 13 -4.1 14.8 0C13 4.1 8.1 7 0 7C-8.1 7 -13 4.1 -14.8 0Z" class="b"/><path d="M14.8 0C13 4.1 8.1 7 0 7C4.4 4.9 8.9 3.1 14.8 0Z" fill="#1c168e"/><ellipse cx="-11.9" cy="2.1" rx="1.1" ry="0.8" fill="#b3b0f7"/></g>
<g transform="translate(1288.3 1960.1) rotate(-56.1)"><path d="M-15 0C-13.2 -4.1 -8.2 -7 0 -7C8.2 -7 13.2 -4.1 15 0C13.2 4.1 8.2 7 0 7C-8.2 7 -13.2 4.1 -15 0Z" class="b"/><path d="M15 0C13.2 4.1 8.2 7 0 7C4.5 4.9 9 3.1 15 0Z" fill="#1c168e"/><ellipse cx="-12" cy="2.1" rx="1.1" ry="0.8" fill="#b3b0f7"/></g>
<g transform="translate(1304 1936.6) rotate(-56.1)"><path d="M-15 0C-13.2 -4.1 -8.2 -7 0 -7C8.2 -7 13.2 -4.1 15 0C13.2 4.1 8.2 7 0 7C-8.2 7 -13.2 4.1 -15 0Z" class="b"/><path d="M15 0C13.2 4.1 8.2 7 0 7C4.5 4.9 9 3.1 15 0Z" fill="#1c168e"/><ellipse cx="-12" cy="2.1" rx="1.1" ry="0.8" fill="#b3b0f7"/></g>
<g transform="translate(1319.8 1913.2) rotate(-56.1)"><path d="M-15 0C-13.2 -4.1 -8.2 -7 0 -7C8.2 -7 13.2 -4.1 15 0C13.2 4.1 8.2 7 0 7C-8.2 7 -13.2 4.1 -15 0Z" class="b"/><path d="M15 0C13.2 4.1 8.2 7 0 7C4.5 4.9 9 3.1 15 0Z" fill="#1c168e"/><ellipse cx="-12" cy="2.1" rx="1.1" ry="0.8" fill="#b3b0f7"/></g>
<g transform="translate(1335.5 1889.7) rotate(-56.1)"><path d="M-15 0C-13.2 -4.1 -8.2 -7 0 -7C8.2 -7 13.2 -4.1 15 0C13.2 4.1 8.2 7 0 7C-8.2 7 -13.2 4.1 -15 0Z" class="b"/><path d="M15 0C13.2 4.1 8.2 7 0 7C4.5 4.9 9 3.1 15 0Z" fill="#1c168e"/><ellipse cx="-12" cy="2.1" rx="1.1" ry="0.8" fill="#b3b0f7"/></g>
<g transform="translate(1353.6 1971) rotate(-76.1)"><path d="M-15.5 0C-13.7 -4.1 -8.5 -7 0 -7C8.5 -7 13.7 -4.1 15.5 0C13.7 4.1 8.5 7 0 7C-8.5 7 -13.7 4.1 -15.5 0Z" class="b"/><path d="M15.5 0C13.7 4.1 8.5 7 0 7C4.7 4.9 9.3 3.1 15.5 0Z" fill="#1c168e"/><ellipse cx="-12.4" cy="2.1" rx="1.1" ry="0.8" fill="#b3b0f7"/></g>
<g transform="translate(1360.6 1942.5) rotate(-76.1)"><path d="M-15.5 0C-13.7 -4.1 -8.5 -7 0 -7C8.5 -7 13.7 -4.1 15.5 0C13.7 4.1 8.5 7 0 7C-8.5 7 -13.7 4.1 -15.5 0Z" class="b"/><path d="M15.5 0C13.7 4.1 8.5 7 0 7C4.7 4.9 9.3 3.1 15.5 0Z" fill="#1c168e"/><ellipse cx="-12.4" cy="2.1" rx="1.1" ry="0.8" fill="#b3b0f7"/></g>
<g transform="translate(1367.7 1914) rotate(-76.1)"><path d="M-15.5 0C-13.7 -4.1 -8.5 -7 0 -7C8.5 -7 13.7 -4.1 15.5 0C13.7 4.1 8.5 7 0 7C-8.5 7 -13.7 4.1 -15.5 0Z" class="b"/><path d="M15.5 0C13.7 4.1 8.5 7 0 7C4.7 4.9 9.3 3.1 15.5 0Z" fill="#1c168e"/><ellipse cx="-12.4" cy="2.1" rx="1.1" ry="0.8" fill="#b3b0f7"/></g>
<g transform="translate(1374.7 1885.5) rotate(-76.1)"><path d="M-15.5 0C-13.7 -4.1 -8.5 -7 0 -7C8.5 -7 13.7 -4.1 15.5 0C13.7 4.1 8.5 7 0 7C-8.5 7 -13.7 4.1 -15.5 0Z" class="b"/><path d="M15.5 0C13.7 4.1 8.5 7 0 7C4.7 4.9 9.3 3.1 15.5 0Z" fill="#1c168e"/><ellipse cx="-12.4" cy="2.1" rx="1.1" ry="0.8" fill="#b3b0f7"/></g>
<g transform="translate(1438.8 1960.9) rotate(-105.5)"><path d="M-14.9 0C-13.1 -4.1 -8.2 -7 0 -7C8.2 -7 13.1 -4.1 14.9 0C13.1 4.1 8.2 7 0 7C-8.2 7 -13.1 4.1 -14.9 0Z" class="b"/><path d="M14.9 0C13.1 4.1 8.2 7 0 7C4.5 4.9 8.9 3.1 14.9 0Z" fill="#1c168e"/><ellipse cx="-11.9" cy="2.1" rx="1.1" ry="0.8" fill="#b3b0f7"/></g>
<g transform="translate(1431.2 1933.8) rotate(-105.5)"><path d="M-14.9 0C-13.1 -4.1 -8.2 -7 0 -7C8.2 -7 13.1 -4.1 14.9 0C13.1 4.1 8.2 7 0 7C-8.2 7 -13.1 4.1 -14.9 0Z" class="b"/><path d="M14.9 0C13.1 4.1 8.2 7 0 7C4.5 4.9 8.9 3.1 14.9 0Z" fill="#1c168e"/><ellipse cx="-11.9" cy="2.1" rx="1.1" ry="0.8" fill="#b3b0f7"/></g>
<g transform="translate(1423.8 1906.7) rotate(-105.5)"><path d="M-14.9 0C-13.1 -4.1 -8.2 -7 0 -7C8.2 -7 13.1 -4.1 14.9 0C13.1 4.1 8.2 7 0 7C-8.2 7 -13.1 4.1 -14.9 0Z" class="b"/><path d="M14.9 0C13.1 4.1 8.2 7 0 7C4.5 4.9 8.9 3.1 14.9 0Z" fill="#1c168e"/><ellipse cx="-11.9" cy="2.1" rx="1.1" ry="0.8" fill="#b3b0f7"/></g>
<g transform="translate(1416.2 1879.6) rotate(-105.5)"><path d="M-14.9 0C-13.1 -4.1 -8.2 -7 0 -7C8.2 -7 13.1 -4.1 14.9 0C13.1 4.1 8.2 7 0 7C-8.2 7 -13.1 4.1 -14.9 0Z" class="b"/><path d="M14.9 0C13.1 4.1 8.2 7 0 7C4.5 4.9 8.9 3.1 14.9 0Z" fill="#1c168e"/><ellipse cx="-11.9" cy="2.1" rx="1.1" ry="0.8" fill="#b3b0f7"/></g>
<g transform="translate(1402 1816.2) rotate(-118.9)"><rect x="0.8" y="-10.2" width="27.4" height="20.5" class="m"/><rect x="29.8" y="-10.2" width="27.4" height="20.5" class="m"/><path d="M29 -9.6V9.6" class="g"/></g>
<g transform="translate(1384 1831.6) rotate(-116.8)"><rect x="0.8" y="-10.2" width="27.4" height="20.5" class="m"/><rect x="29.8" y="-10.2" width="27.4" height="20.5" class="m"/><path d="M29 -9.6V9.6" class="g"/></g>
<g transform="translate(1350.9 1784.1) rotate(32.6)"><rect x="0.8" y="-10.2" width="27.4" height="20.5" class="m"/><rect x="29.8" y="-10.2" width="27.4" height="20.5" class="m"/><path d="M29 -9.6V9.6" class="g"/></g>
<g transform="translate(1363.1 1835.5) rotate(-57.8)"><rect x="0.8" y="-10.2" width="27.4" height="20.5" class="m"/><rect x="29.8" y="-10.2" width="27.4" height="20.5" class="m"/><path d="M29 -9.6V9.6" class="g"/></g>
<g transform="translate(1355.9 1757.6) rotate(58)"><rect x="0.8" y="-10.2" width="27.4" height="20.5" class="m"/><rect x="29.8" y="-10.2" width="27.4" height="20.5" class="m"/><path d="M29 -9.6V9.6" class="g"/></g>
<g transform="translate(1364.4 1751.6) rotate(38.2)"><rect x="0.8" y="-10.2" width="27.4" height="20.5" class="m"/><rect x="29.8" y="-10.2" width="27.4" height="20.5" class="m"/><path d="M29 -9.6V9.6" class="g"/></g>
<g transform="translate(1355.4 1796) rotate(21.8)"><rect x="0.8" y="-10.2" width="27.4" height="20.5" class="m"/><rect x="29.8" y="-10.2" width="27.4" height="20.5" class="m"/><path d="M29 -9.6V9.6" class="g"/></g>
<g transform="translate(1395.7 1823.9) rotate(-89.4)"><rect x="0.8" y="-10.2" width="27.4" height="20.5" class="m"/><rect x="29.8" y="-10.2" width="27.4" height="20.5" class="m"/><path d="M29 -9.6V9.6" class="g"/></g>
<g transform="translate(1425.3 1791.1) rotate(179.2)"><rect x="0.8" y="-10.2" width="27.4" height="20.5" class="m"/><rect x="29.8" y="-10.2" width="27.4" height="20.5" class="m"/><path d="M29 -9.6V9.6" class="g"/></g>
<g transform="translate(1418.8 1777.9) rotate(-176.7)"><rect x="0.8" y="-10.2" width="27.4" height="20.5" class="m"/><rect x="29.8" y="-10.2" width="27.4" height="20.5" class="m"/><path d="M29 -9.6V9.6" class="g"/></g>
<g transform="translate(1361.7 1804.5) rotate(-22.9)"><rect x="0.8" y="-10.2" width="27.4" height="20.5" class="m"/><rect x="29.8" y="-10.2" width="27.4" height="20.5" class="m"/><path d="M29 -9.6V9.6" class="g"/></g>
<g transform="translate(1421.9 1801.3) rotate(-167.4)"><rect x="0.8" y="-10.2" width="27.4" height="20.5" class="m"/><rect x="29.8" y="-10.2" width="27.4" height="20.5" class="m"/><path d="M29 -9.6V9.6" class="g"/></g>
<g transform="translate(1395.5 1766) rotate(141.8)"><rect x="0.8" y="-10.2" width="27.4" height="20.5" class="m"/><rect x="29.8" y="-10.2" width="27.4" height="20.5" class="m"/><path d="M29 -9.6V9.6" class="g"/></g>
<g transform="translate(1408.4 1765.2) rotate(104)"><rect x="0.8" y="-10.2" width="27.4" height="20.5" class="m"/><rect x="29.8" y="-10.2" width="27.4" height="20.5" class="m"/><path d="M29 -9.6V9.6" class="g"/></g>
<g transform="translate(1356.9 1821.2) rotate(-72.6)"><rect x="0.8" y="-10.2" width="27.4" height="20.5" class="m"/><rect x="29.8" y="-10.2" width="27.4" height="20.5" class="m"/><path d="M29 -9.6V9.6" class="g"/></g>
<g transform="translate(1380.4 1764.4) rotate(103.3)"><rect x="0.8" y="-10.2" width="27.4" height="20.5" class="m"/><rect x="29.8" y="-10.2" width="27.4" height="20.5" class="m"/><path d="M29 -9.6V9.6" class="g"/></g>
<g transform="translate(1358.1 1697.2) rotate(75)"><rect x="0.8" y="-10.2" width="29.4" height="20.5" class="m"/><rect x="31.8" y="-10.2" width="29.4" height="20.5" class="m"/><path d="M31 -9.6V9.6" class="g"/></g>
<g transform="translate(1384.9 1695.9) rotate(90.8)"><rect x="0.8" y="-10.2" width="29.4" height="20.5" class="m"/><rect x="31.8" y="-10.2" width="29.4" height="20.5" class="m"/><path d="M31 -9.6V9.6" class="g"/></g>
<g transform="translate(1430.4 1693.2) rotate(115.3)"><rect x="0.8" y="-10.2" width="29.4" height="20.5" class="m"/><rect x="31.8" y="-10.2" width="29.4" height="20.5" class="m"/><path d="M31 -9.6V9.6" class="g"/></g>
<g transform="translate(1308.6 1741.4) rotate(34.2)"><rect x="0.8" y="-10.2" width="29.4" height="20.5" class="m"/><rect x="31.8" y="-10.2" width="29.4" height="20.5" class="m"/><path d="M31 -9.6V9.6" class="g"/></g>
<g transform="translate(1305.9 1773.6) rotate(13.5)"><rect x="0.8" y="-10.2" width="29.4" height="20.5" class="m"/><rect x="31.8" y="-10.2" width="29.4" height="20.5" class="m"/><path d="M31 -9.6V9.6" class="g"/></g>
<g transform="translate(1443.8 1746.8) rotate(142.9)"><rect x="0.8" y="-10.2" width="29.4" height="20.5" class="m"/><rect x="31.8" y="-10.2" width="29.4" height="20.5" class="m"/><path d="M31 -9.6V9.6" class="g"/></g>
<g transform="translate(1459.9 1788.3) rotate(177)"><rect x="0.8" y="-10.2" width="29.4" height="20.5" class="m"/><rect x="31.8" y="-10.2" width="29.4" height="20.5" class="m"/><path d="M31 -9.6V9.6" class="g"/></g>
<g transform="translate(1322 1824.5) rotate(-27.6)"><rect x="0.8" y="-10.2" width="29.4" height="20.5" class="m"/><rect x="31.8" y="-10.2" width="29.4" height="20.5" class="m"/><path d="M31 -9.6V9.6" class="g"/></g>
<g transform="translate(1451.9 1833.8) rotate(-148.7)"><rect x="0.8" y="-10.2" width="29.4" height="20.5" class="m"/><rect x="31.8" y="-10.2" width="29.4" height="20.5" class="m"/><path d="M31 -9.6V9.6" class="g"/></g>
<g transform="translate(1343.4 1878) rotate(-64.9)"><rect x="0.8" y="-10.2" width="29.4" height="20.5" class="m"/><rect x="31.8" y="-10.2" width="29.4" height="20.5" class="m"/><path d="M31 -9.6V9.6" class="g"/></g>
<g transform="translate(1378.2 1871.3) rotate(-86.1)"><rect x="0.8" y="-10.2" width="29.4" height="20.5" class="m"/><rect x="31.8" y="-10.2" width="29.4" height="20.5" class="m"/><path d="M31 -9.6V9.6" class="g"/></g>
<g transform="translate(1412.5 1866) rotate(-111.4)"><rect x="0.8" y="-10.2" width="29.4" height="20.5" class="m"/><rect x="31.8" y="-10.2" width="29.4" height="20.5" class="m"/><path d="M31 -9.6V9.6" class="g"/></g>
<g transform="translate(1320.1 1824.6) rotate(-25)"><rect x="0.8" y="-10.5" width="31.4" height="21" class="m"/><path d="" class="g"/></g>
<g transform="translate(1324.7 1799.7) rotate(-25)"><rect x="0.8" y="-10.5" width="31.4" height="21" class="m"/><path d="" class="g"/></g>
<g transform="translate(1350.2 1813.1) rotate(-25)"><rect x="0.8" y="-10.5" width="31.4" height="21" class="m"/><path d="" class="g"/></g>
<g transform="translate(1354.4 1786.4) rotate(-25)"><rect x="0.8" y="-10.5" width="31.4" height="21" class="m"/><path d="" class="g"/></g>
<g transform="translate(1381.7 1799.1) rotate(-25)"><rect x="0.8" y="-10.5" width="31.4" height="21" class="m"/><path d="" class="g"/></g>
<g transform="translate(1384.7 1773.7) rotate(-25)"><rect x="0.8" y="-10.5" width="31.4" height="21" class="m"/><path d="" class="g"/></g>
<g transform="translate(1410.8 1784.6) rotate(-25)"><rect x="0.8" y="-10.5" width="31.4" height="21" class="m"/><path d="" class="g"/></g>
<circle cx="730.5" cy="2361.2" r="120" fill="#d8d7dd" stroke="#85858b" stroke-width="1.2"/>
<path d="M619.3 2333.5 L620.8 2328.1 L622.5 2322.8 L624.5 2317.7 L626.7 2312.6 L629.2 2307.6 L631.9 2302.7 L634.9 2298 L638 2293.5 L641.4 2289.1 L645 2284.8 L648.8 2280.8 L652.8 2276.9 L657 2273.3 L661.4 2269.8 L665.9 2266.6 L670.5 2263.5 L675.3 2260.8 L680.3 2258.2 L685.3 2255.9 L690.5 2253.8 L695.7 2252 L701.1 2250.4 L706.5 2249.2 L711.9 2248.1 L717.4 2247.3 L722.9 2246.8 L728.5 2246.6 L734.1 2246.7 L739.6 2247 L745.1 2247.5 L750.6 2248.4 L756.1 2249.5 L761.4 2250.9 L766.8 2252.5 L772 2254.4 L777.1 2256.5 L777.1 2256.5 L771.6 2255.4 L766.2 2254.2 L760.8 2253.3 L755.4 2252.6 L750 2252.1 L744.6 2251.8 L739.2 2251.7 L733.9 2251.9 L728.6 2252.3 L723.3 2252.8 L718.1 2253.7 L713 2254.7 L707.9 2255.9 L702.9 2257.3 L697.9 2258.9 L693 2260.7 L688.2 2262.7 L683.5 2264.9 L678.9 2267.3 L674.4 2269.8 L669.9 2272.5 L665.6 2275.5 L661.4 2278.5 L657.3 2281.8 L653.4 2285.2 L649.5 2288.9 L645.8 2292.6 L642.3 2296.6 L638.9 2300.7 L635.6 2304.9 L632.5 2309.3 L629.6 2313.9 L626.8 2318.6 L624.2 2323.5 L621.8 2328.4 L619.3 2333.5Z" fill="#ebebef"/>
<g transform="translate(750.7 2244.7) rotate(99)"><path d="M-11.4 0C-10.1 -3.1 -6.3 -5.3 0 -5.3C6.3 -5.3 10.1 -3.1 11.4 0C10.1 3.1 6.3 5.3 0 5.3C-6.3 5.3 -10.1 3.1 -11.4 0Z" class="b"/><path d="M11.4 0C10.1 3.1 6.3 5.3 0 5.3C3.4 3.7 6.9 2.4 11.4 0Z" fill="#1c168e"/><ellipse cx="-9.1" cy="1.6" rx="1.1" ry="0.8" fill="#b3b0f7"/></g>
<g transform="translate(747.4 2265.2) rotate(99)"><path d="M-11.4 0C-10.1 -3.1 -6.3 -5.3 0 -5.3C6.3 -5.3 10.1 -3.1 11.4 0C10.1 3.1 6.3 5.3 0 5.3C-6.3 5.3 -10.1 3.1 -11.4 0Z" class="b"/><path d="M11.4 0C10.1 3.1 6.3 5.3 0 5.3C3.4 3.7 6.9 2.4 11.4 0Z" fill="#1c168e"/><ellipse cx="-9.1" cy="1.6" rx="1.1" ry="0.8" fill="#b3b0f7"/></g>
<g transform="translate(744.1 2285.7) rotate(99)"><path d="M-11.4 0C-10.1 -3.1 -6.3 -5.3 0 -5.3C6.3 -5.3 10.1 -3.1 11.4 0C10.1 3.1 6.3 5.3 0 5.3C-6.3 5.3 -10.1 3.1 -11.4 0Z" class="b"/><path d="M11.4 0C10.1 3.1 6.3 5.3 0 5.3C3.4 3.7 6.9 2.4 11.4 0Z" fill="#1c168e"/><ellipse cx="-9.1" cy="1.6" rx="1.1" ry="0.8" fill="#b3b0f7"/></g>
<g transform="translate(716.2 2250.2) rotate(81.4)"><path d="M-10.2 0C-8.9 -3.1 -5.6 -5.3 0 -5.3C5.6 -5.3 8.9 -3.1 10.2 0C8.9 3.1 5.6 5.3 0 5.3C-5.6 5.3 -8.9 3.1 -10.2 0Z" class="b"/><path d="M10.2 0C8.9 3.1 5.6 5.3 0 5.3C3 3.7 6.1 2.4 10.2 0Z" fill="#1c168e"/><ellipse cx="-8.1" cy="1.6" rx="1.1" ry="0.8" fill="#b3b0f7"/></g>
<g transform="translate(719 2268.5) rotate(81.4)"><path d="M-10.2 0C-8.9 -3.1 -5.6 -5.3 0 -5.3C5.6 -5.3 8.9 -3.1 10.2 0C8.9 3.1 5.6 5.3 0 5.3C-5.6 5.3 -8.9 3.1 -10.2 0Z" class="b"/><path d="M10.2 0C8.9 3.1 5.6 5.3 0 5.3C3 3.7 6.1 2.4 10.2 0Z" fill="#1c168e"/><ellipse cx="-8.1" cy="1.6" rx="1.1" ry="0.8" fill="#b3b0f7"/></g>
<g transform="translate(721.7 2286.8) rotate(81.4)"><path d="M-10.2 0C-8.9 -3.1 -5.6 -5.3 0 -5.3C5.6 -5.3 8.9 -3.1 10.2 0C8.9 3.1 5.6 5.3 0 5.3C-5.6 5.3 -8.9 3.1 -10.2 0Z" class="b"/><path d="M10.2 0C8.9 3.1 5.6 5.3 0 5.3C3 3.7 6.1 2.4 10.2 0Z" fill="#1c168e"/><ellipse cx="-8.1" cy="1.6" rx="1.1" ry="0.8" fill="#b3b0f7"/></g>
<g transform="translate(679.2 2261.4) rotate(61.1)"><path d="M-10.5 0C-9.2 -3.1 -5.8 -5.3 0 -5.3C5.8 -5.3 9.2 -3.1 10.5 0C9.2 3.1 5.8 5.3 0 5.3C-5.8 5.3 -9.2 3.1 -10.5 0Z" class="b"/><path d="M10.5 0C9.2 3.1 5.8 5.3 0 5.3C3.1 3.7 6.3 2.4 10.5 0Z" fill="#1c168e"/><ellipse cx="-8.4" cy="1.6" rx="1.1" ry="0.8" fill="#b3b0f7"/></g>
<g transform="translate(688.4 2278.1) rotate(61.1)"><path d="M-10.5 0C-9.2 -3.1 -5.8 -5.3 0 -5.3C5.8 -5.3 9.2 -3.1 10.5 0C9.2 3.1 5.8 5.3 0 5.3C-5.8 5.3 -9.2 3.1 -10.5 0Z" class="b"/><path d="M10.5 0C9.2 3.1 5.8 5.3 0 5.3C3.1 3.7 6.3 2.4 10.5 0Z" fill="#1c168e"/><ellipse cx="-8.4" cy="1.6" rx="1.1" ry="0.8" fill="#b3b0f7"/></g>
<g transform="translate(697.6 2294.7) rotate(61.1)"><path d="M-10.5 0C-9.2 -3.1 -5.8 -5.3 0 -5.3C5.8 -5.3 9.2 -3.1 10.5 0C9.2 3.1 5.8 5.3 0 5.3C-5.8 5.3 -9.2 3.1 -10.5 0Z" class="b"/><path d="M10.5 0C9.2 3.1 5.8 5.3 0 5.3C3.1 3.7 6.3 2.4 10.5 0Z" fill="#1c168e"/><ellipse cx="-8.4" cy="1.6" rx="1.1" ry="0.8" fill="#b3b0f7"/></g>
<g transform="translate(651.8 2289.5) rotate(40.4)"><path d="M-9.5 0C-8.3 -3.1 -5.2 -5.3 0 -5.3C5.2 -5.3 8.3 -3.1 9.5 0C8.3 3.1 5.2 5.3 0 5.3C-5.2 5.3 -8.3 3.1 -9.5 0Z" class="b"/><path d="M9.5 0C8.3 3.1 5.2 5.3 0 5.3C2.8 3.7 5.7 2.4 9.5 0Z" fill="#1c168e"/><ellipse cx="-7.6" cy="1.6" rx="1.1" ry="0.8" fill="#b3b0f7"/></g>
<g transform="translate(664.9 2300.6) rotate(40.4)"><path d="M-9.5 0C-8.3 -3.1 -5.2 -5.3 0 -5.3C5.2 -5.3 8.3 -3.1 9.5 0C8.3 3.1 5.2 5.3 0 5.3C-5.2 5.3 -8.3 3.1 -9.5 0Z" class="b"/><path d="M9.5 0C8.3 3.1 5.2 5.3 0 5.3C2.8 3.7 5.7 2.4 9.5 0Z" fill="#1c168e"/><ellipse cx="-7.6" cy="1.6" rx="1.1" ry="0.8" fill="#b3b0f7"/></g>
<g transform="translate(678 2311.8) rotate(40.4)"><path d="M-9.5 0C-8.3 -3.1 -5.2 -5.3 0 -5.3C5.2 -5.3 8.3 -3.1 9.5 0C8.3 3.1 5.2 5.3 0 5.3C-5.2 5.3 -8.3 3.1 -9.5 0Z" class="b"/><path d="M9.5 0C8.3 3.1 5.2 5.3 0 5.3C2.8 3.7 5.7 2.4 9.5 0Z" fill="#1c168e"/><ellipse cx="-7.6" cy="1.6" rx="1.1" ry="0.8" fill="#b3b0f7"/></g>
<g transform="translate(628.6 2320.6) rotate(19.9)"><path d="M-10.5 0C-9.2 -3.1 -5.8 -5.3 0 -5.3C5.8 -5.3 9.2 -3.1 10.5 0C9.2 3.1 5.8 5.3 0 5.3C-5.8 5.3 -9.2 3.1 -10.5 0Z" class="b"/><path d="M10.5 0C9.2 3.1 5.8 5.3 0 5.3C3.1 3.7 6.3 2.4 10.5 0Z" fill="#1c168e"/><ellipse cx="-8.4" cy="1.6" rx="1.1" ry="0.8" fill="#b3b0f7"/></g>
<g transform="translate(646.5 2327.1) rotate(19.9)"><path d="M-10.5 0C-9.2 -3.1 -5.8 -5.3 0 -5.3C5.8 -5.3 9.2 -3.1 10.5 0C9.2 3.1 5.8 5.3 0 5.3C-5.8 5.3 -9.2 3.1 -10.5 0Z" class="b"/><path d="M10.5 0C9.2 3.1 5.8 5.3 0 5.3C3.1 3.7 6.3 2.4 10.5 0Z" fill="#1c168e"/><ellipse cx="-8.4" cy="1.6" rx="1.1" ry="0.8" fill="#b3b0f7"/></g>
<g transform="translate(664.4 2333.6) rotate(19.9)"><path d="M-10.5 0C-9.2 -3.1 -5.8 -5.3 0 -5.3C5.8 -5.3 9.2 -3.1 10.5 0C9.2 3.1 5.8 5.3 0 5.3C-5.8 5.3 -9.2 3.1 -10.5 0Z" class="b"/><path d="M10.5 0C9.2 3.1 5.8 5.3 0 5.3C3.1 3.7 6.3 2.4 10.5 0Z" fill="#1c168e"/><ellipse cx="-8.4" cy="1.6" rx="1.1" ry="0.8" fill="#b3b0f7"/></g>
<g transform="translate(625.9 2351.5) rotate(3.6)"><path d="M-9.7 0C-8.5 -3.1 -5.3 -5.3 0 -5.3C5.3 -5.3 8.5 -3.1 9.7 0C8.5 3.1 5.3 5.3 0 5.3C-5.3 5.3 -8.5 3.1 -9.7 0Z" class="b"/><path d="M9.7 0C8.5 3.1 5.3 5.3 0 5.3C2.9 3.7 5.8 2.4 9.7 0Z" fill="#1c168e"/><ellipse cx="-7.7" cy="1.6" rx="1.1" ry="0.8" fill="#b3b0f7"/></g>
<g transform="translate(643.4 2352.6) rotate(3.6)"><path d="M-9.7 0C-8.5 -3.1 -5.3 -5.3 0 -5.3C5.3 -5.3 8.5 -3.1 9.7 0C8.5 3.1 5.3 5.3 0 5.3C-5.3 5.3 -8.5 3.1 -9.7 0Z" class="b"/><path d="M9.7 0C8.5 3.1 5.3 5.3 0 5.3C2.9 3.7 5.8 2.4 9.7 0Z" fill="#1c168e"/><ellipse cx="-7.7" cy="1.6" rx="1.1" ry="0.8" fill="#b3b0f7"/></g>
<g transform="translate(661 2353.7) rotate(3.6)"><path d="M-9.7 0C-8.5 -3.1 -5.3 -5.3 0 -5.3C5.3 -5.3 8.5 -3.1 9.7 0C8.5 3.1 5.3 5.3 0 5.3C-5.3 5.3 -8.5 3.1 -9.7 0Z" class="b"/><path d="M9.7 0C8.5 3.1 5.3 5.3 0 5.3C2.9 3.7 5.8 2.4 9.7 0Z" fill="#1c168e"/><ellipse cx="-7.7" cy="1.6" rx="1.1" ry="0.8" fill="#b3b0f7"/></g>
<g transform="translate(627.4 2392.2) rotate(-17.9)"><path d="M-10.5 0C-9.2 -3.1 -5.7 -5.3 0 -5.3C5.7 -5.3 9.2 -3.1 10.5 0C9.2 3.1 5.7 5.3 0 5.3C-5.7 5.3 -9.2 3.1 -10.5 0Z" class="b"/><path d="M10.5 0C9.2 3.1 5.7 5.3 0 5.3C3.1 3.7 6.3 2.4 10.5 0Z" fill="#1c168e"/><ellipse cx="-8.4" cy="1.6" rx="1.1" ry="0.8" fill="#b3b0f7"/></g>
<g transform="translate(645.5 2386.3) rotate(-17.9)"><path d="M-10.5 0C-9.2 -3.1 -5.7 -5.3 0 -5.3C5.7 -5.3 9.2 -3.1 10.5 0C9.2 3.1 5.7 5.3 0 5.3C-5.7 5.3 -9.2 3.1 -10.5 0Z" class="b"/><path d="M10.5 0C9.2 3.1 5.7 5.3 0 5.3C3.1 3.7 6.3 2.4 10.5 0Z" fill="#1c168e"/><ellipse cx="-8.4" cy="1.6" rx="1.1" ry="0.8" fill="#b3b0f7"/></g>
<g transform="translate(663.6 2380.5) rotate(-17.9)"><path d="M-10.5 0C-9.2 -3.1 -5.7 -5.3 0 -5.3C5.7 -5.3 9.2 -3.1 10.5 0C9.2 3.1 5.7 5.3 0 5.3C-5.7 5.3 -9.2 3.1 -10.5 0Z" class="b"/><path d="M10.5 0C9.2 3.1 5.7 5.3 0 5.3C3.1 3.7 6.3 2.4 10.5 0Z" fill="#1c168e"/><ellipse cx="-8.4" cy="1.6" rx="1.1" ry="0.8" fill="#b3b0f7"/></g>
<g transform="translate(640 2422.9) rotate(-34.9)"><path d="M-11 0C-9.7 -3.1 -6 -5.3 0 -5.3C6 -5.3 9.7 -3.1 11 0C9.7 3.1 6 5.3 0 5.3C-6 5.3 -9.7 3.1 -11 0Z" class="b"/><path d="M11 0C9.7 3.1 6 5.3 0 5.3C3.3 3.7 6.6 2.4 11 0Z" fill="#1c168e"/><ellipse cx="-8.8" cy="1.6" rx="1.1" ry="0.8" fill="#b3b0f7"/></g>
<g transform="translate(656.4 2411.4) rotate(-34.9)"><path d="M-11 0C-9.7 -3.1 -6 -5.3 0 -5.3C6 -5.3 9.7 -3.1 11 0C9.7 3.1 6 5.3 0 5.3C-6 5.3 -9.7 3.1 -11 0Z" class="b"/><path d="M11 0C9.7 3.1 6 5.3 0 5.3C3.3 3.7 6.6 2.4 11 0Z" fill="#1c168e"/><ellipse cx="-8.8" cy="1.6" rx="1.1" ry="0.8" fill="#b3b0f7"/></g>
<g transform="translate(672.8 2400) rotate(-34.9)"><path d="M-11 0C-9.7 -3.1 -6 -5.3 0 -5.3C6 -5.3 9.7 -3.1 11 0C9.7 3.1 6 5.3 0 5.3C-6 5.3 -9.7 3.1 -11 0Z" class="b"/><path d="M11 0C9.7 3.1 6 5.3 0 5.3C3.3 3.7 6.6 2.4 11 0Z" fill="#1c168e"/><ellipse cx="-8.8" cy="1.6" rx="1.1" ry="0.8" fill="#b3b0f7"/></g>
<g transform="translate(663.6 2454.4) rotate(-54.4)"><path d="M-12.2 0C-10.7 -3.1 -6.7 -5.3 0 -5.3C6.7 -5.3 10.7 -3.1 12.2 0C10.7 3.1 6.7 5.3 0 5.3C-6.7 5.3 -10.7 3.1 -12.2 0Z" class="b"/><path d="M12.2 0C10.7 3.1 6.7 5.3 0 5.3C3.7 3.7 7.3 2.4 12.2 0Z" fill="#1c168e"/><ellipse cx="-9.7" cy="1.6" rx="1.1" ry="0.8" fill="#b3b0f7"/></g>
<g transform="translate(676.5 2436.4) rotate(-54.4)"><path d="M-12.2 0C-10.7 -3.1 -6.7 -5.3 0 -5.3C6.7 -5.3 10.7 -3.1 12.2 0C10.7 3.1 6.7 5.3 0 5.3C-6.7 5.3 -10.7 3.1 -12.2 0Z" class="b"/><path d="M12.2 0C10.7 3.1 6.7 5.3 0 5.3C3.7 3.7 7.3 2.4 12.2 0Z" fill="#1c168e"/><ellipse cx="-9.7" cy="1.6" rx="1.1" ry="0.8" fill="#b3b0f7"/></g>
<g transform="translate(689.4 2418.4) rotate(-54.4)"><path d="M-12.2 0C-10.7 -3.1 -6.7 -5.3 0 -5.3C6.7 -5.3 10.7 -3.1 12.2 0C10.7 3.1 6.7 5.3 0 5.3C-6.7 5.3 -10.7 3.1 -12.2 0Z" class="b"/><path d="M12.2 0C10.7 3.1 6.7 5.3 0 5.3C3.7 3.7 7.3 2.4 12.2 0Z" fill="#1c168e"/><ellipse cx="-9.7" cy="1.6" rx="1.1" ry="0.8" fill="#b3b0f7"/></g>
<g transform="translate(691.8 2468) rotate(-69.6)"><path d="M-11.9 0C-10.5 -3.1 -6.5 -5.3 0 -5.3C6.5 -5.3 10.5 -3.1 11.9 0C10.5 3.1 6.5 5.3 0 5.3C-6.5 5.3 -10.5 3.1 -11.9 0Z" class="b"/><path d="M11.9 0C10.5 3.1 6.5 5.3 0 5.3C3.6 3.7 7.1 2.4 11.9 0Z" fill="#1c168e"/><ellipse cx="-9.5" cy="1.6" rx="1.1" ry="0.8" fill="#b3b0f7"/></g>
<g transform="translate(699.3 2447.7) rotate(-69.6)"><path d="M-11.9 0C-10.5 -3.1 -6.5 -5.3 0 -5.3C6.5 -5.3 10.5 -3.1 11.9 0C10.5 3.1 6.5 5.3 0 5.3C-6.5 5.3 -10.5 3.1 -11.9 0Z" class="b"/><path d="M11.9 0C10.5 3.1 6.5 5.3 0 5.3C3.6 3.7 7.1 2.4 11.9 0Z" fill="#1c168e"/><ellipse cx="-9.5" cy="1.6" rx="1.1" ry="0.8" fill="#b3b0f7"/></g>
<g transform="translate(706.9 2427.4) rotate(-69.6)"><path d="M-11.9 0C-10.5 -3.1 -6.5 -5.3 0 -5.3C6.5 -5.3 10.5 -3.1 11.9 0C10.5 3.1 6.5 5.3 0 5.3C-6.5 5.3 -10.5 3.1 -11.9 0Z" class="b"/><path d="M11.9 0C10.5 3.1 6.5 5.3 0 5.3C3.6 3.7 7.1 2.4 11.9 0Z" fill="#1c168e"/><ellipse cx="-9.5" cy="1.6" rx="1.1" ry="0.8" fill="#b3b0f7"/></g>
<g transform="translate(728.6 2478.7) rotate(-88.1)"><path d="M-12.7 0C-11.1 -3.1 -7 -5.3 0 -5.3C7 -5.3 11.1 -3.1 12.7 0C11.1 3.1 7 5.3 0 5.3C-7 5.3 -11.1 3.1 -12.7 0Z" class="b"/><path d="M12.7 0C11.1 3.1 7 5.3 0 5.3C3.8 3.7 7.6 2.4 12.7 0Z" fill="#1c168e"/><ellipse cx="-10.1" cy="1.6" rx="1.1" ry="0.8" fill="#b3b0f7"/></g>
<g transform="translate(729.4 2455.7) rotate(-88.1)"><path d="M-12.7 0C-11.1 -3.1 -7 -5.3 0 -5.3C7 -5.3 11.1 -3.1 12.7 0C11.1 3.1 7 5.3 0 5.3C-7 5.3 -11.1 3.1 -12.7 0Z" class="b"/><path d="M12.7 0C11.1 3.1 7 5.3 0 5.3C3.8 3.7 7.6 2.4 12.7 0Z" fill="#1c168e"/><ellipse cx="-10.1" cy="1.6" rx="1.1" ry="0.8" fill="#b3b0f7"/></g>
<g transform="translate(730.1 2432.7) rotate(-88.1)"><path d="M-12.7 0C-11.1 -3.1 -7 -5.3 0 -5.3C7 -5.3 11.1 -3.1 12.7 0C11.1 3.1 7 5.3 0 5.3C-7 5.3 -11.1 3.1 -12.7 0Z" class="b"/><path d="M12.7 0C11.1 3.1 7 5.3 0 5.3C3.8 3.7 7.6 2.4 12.7 0Z" fill="#1c168e"/><ellipse cx="-10.1" cy="1.6" rx="1.1" ry="0.8" fill="#b3b0f7"/></g>
<g transform="translate(747 2475.3) rotate(-97)"><path d="M-12.1 0C-10.6 -3.1 -6.7 -5.3 0 -5.3C6.7 -5.3 10.6 -3.1 12.1 0C10.6 3.1 6.7 5.3 0 5.3C-6.7 5.3 -10.6 3.1 -12.1 0Z" class="b"/><path d="M12.1 0C10.6 3.1 6.7 5.3 0 5.3C3.6 3.7 7.3 2.4 12.1 0Z" fill="#1c168e"/><ellipse cx="-9.7" cy="1.6" rx="1.1" ry="0.8" fill="#b3b0f7"/></g>
<g transform="translate(744.3 2453.5) rotate(-97)"><path d="M-12.1 0C-10.6 -3.1 -6.7 -5.3 0 -5.3C6.7 -5.3 10.6 -3.1 12.1 0C10.6 3.1 6.7 5.3 0 5.3C-6.7 5.3 -10.6 3.1 -12.1 0Z" class="b"/><path d="M12.1 0C10.6 3.1 6.7 5.3 0 5.3C3.6 3.7 7.3 2.4 12.1 0Z" fill="#1c168e"/><ellipse cx="-9.7" cy="1.6" rx="1.1" ry="0.8" fill="#b3b0f7"/></g>
<g transform="translate(741.6 2431.6) rotate(-97)"><path d="M-12.1 0C-10.6 -3.1 -6.7 -5.3 0 -5.3C6.7 -5.3 10.6 -3.1 12.1 0C10.6 3.1 6.7 5.3 0 5.3C-6.7 5.3 -10.6 3.1 -12.1 0Z" class="b"/><path d="M12.1 0C10.6 3.1 6.7 5.3 0 5.3C3.6 3.7 7.3 2.4 12.1 0Z" fill="#1c168e"/><ellipse cx="-9.7" cy="1.6" rx="1.1" ry="0.8" fill="#b3b0f7"/></g>
<g transform="translate(787.2 2468.7) rotate(-116.3)"><path d="M-13.3 0C-11.7 -3.1 -7.3 -5.3 0 -5.3C7.3 -5.3 11.7 -3.1 13.3 0C11.7 3.1 7.3 5.3 0 5.3C-7.3 5.3 -11.7 3.1 -13.3 0Z" class="b"/><path d="M13.3 0C11.7 3.1 7.3 5.3 0 5.3C4 3.7 8 2.4 13.3 0Z" fill="#1c168e"/><ellipse cx="-10.6" cy="1.6" rx="1.1" ry="0.8" fill="#b3b0f7"/></g>
<g transform="translate(776.5 2447.1) rotate(-116.3)"><path d="M-13.3 0C-11.7 -3.1 -7.3 -5.3 0 -5.3C7.3 -5.3 11.7 -3.1 13.3 0C11.7 3.1 7.3 5.3 0 5.3C-7.3 5.3 -11.7 3.1 -13.3 0Z" class="b"/><path d="M13.3 0C11.7 3.1 7.3 5.3 0 5.3C4 3.7 8 2.4 13.3 0Z" fill="#1c168e"/><ellipse cx="-10.6" cy="1.6" rx="1.1" ry="0.8" fill="#b3b0f7"/></g>
<g transform="translate(765.8 2425.5) rotate(-116.3)"><path d="M-13.3 0C-11.7 -3.1 -7.3 -5.3 0 -5.3C7.3 -5.3 11.7 -3.1 13.3 0C11.7 3.1 7.3 5.3 0 5.3C-7.3 5.3 -11.7 3.1 -13.3 0Z" class="b"/><path d="M13.3 0C11.7 3.1 7.3 5.3 0 5.3C4 3.7 8 2.4 13.3 0Z" fill="#1c168e"/><ellipse cx="-10.6" cy="1.6" rx="1.1" ry="0.8" fill="#b3b0f7"/></g>
<g transform="translate(810.8 2444.7) rotate(-132.1)"><path d="M-11.8 0C-10.4 -3.1 -6.5 -5.3 0 -5.3C6.5 -5.3 10.4 -3.1 11.8 0C10.4 3.1 6.5 5.3 0 5.3C-6.5 5.3 -10.4 3.1 -11.8 0Z" class="b"/><path d="M11.8 0C10.4 3.1 6.5 5.3 0 5.3C3.5 3.7 7.1 2.4 11.8 0Z" fill="#1c168e"/><ellipse cx="-9.4" cy="1.6" rx="1.1" ry="0.8" fill="#b3b0f7"/></g>
<g transform="translate(796.4 2428.8) rotate(-132.1)"><path d="M-11.8 0C-10.4 -3.1 -6.5 -5.3 0 -5.3C6.5 -5.3 10.4 -3.1 11.8 0C10.4 3.1 6.5 5.3 0 5.3C-6.5 5.3 -10.4 3.1 -11.8 0Z" class="b"/><path d="M11.8 0C10.4 3.1 6.5 5.3 0 5.3C3.5 3.7 7.1 2.4 11.8 0Z" fill="#1c168e"/><ellipse cx="-9.4" cy="1.6" rx="1.1" ry="0.8" fill="#b3b0f7"/></g>
<g transform="translate(782 2412.9) rotate(-132.1)"><path d="M-11.8 0C-10.4 -3.1 -6.5 -5.3 0 -5.3C6.5 -5.3 10.4 -3.1 11.8 0C10.4 3.1 6.5 5.3 0 5.3C-6.5 5.3 -10.4 3.1 -11.8 0Z" class="b"/><path d="M11.8 0C10.4 3.1 6.5 5.3 0 5.3C3.5 3.7 7.1 2.4 11.8 0Z" fill="#1c168e"/><ellipse cx="-9.4" cy="1.6" rx="1.1" ry="0.8" fill="#b3b0f7"/></g>
<g transform="translate(836.3 2417.6) rotate(-150.2)"><path d="M-12.4 0C-10.9 -3.1 -6.8 -5.3 0 -5.3C6.8 -5.3 10.9 -3.1 12.4 0C10.9 3.1 6.8 5.3 0 5.3C-6.8 5.3 -10.9 3.1 -12.4 0Z" class="b"/><path d="M12.4 0C10.9 3.1 6.8 5.3 0 5.3C3.7 3.7 7.5 2.4 12.4 0Z" fill="#1c168e"/><ellipse cx="-9.9" cy="1.6" rx="1.1" ry="0.8" fill="#b3b0f7"/></g>
<g transform="translate(816.7 2406.4) rotate(-150.2)"><path d="M-12.4 0C-10.9 -3.1 -6.8 -5.3 0 -5.3C6.8 -5.3 10.9 -3.1 12.4 0C10.9 3.1 6.8 5.3 0 5.3C-6.8 5.3 -10.9 3.1 -12.4 0Z" class="b"/><path d="M12.4 0C10.9 3.1 6.8 5.3 0 5.3C3.7 3.7 7.5 2.4 12.4 0Z" fill="#1c168e"/><ellipse cx="-9.9" cy="1.6" rx="1.1" ry="0.8" fill="#b3b0f7"/></g>
<g transform="translate(797.1 2395.1) rotate(-150.2)"><path d="M-12.4 0C-10.9 -3.1 -6.8 -5.3 0 -5.3C6.8 -5.3 10.9 -3.1 12.4 0C10.9 3.1 6.8 5.3 0 5.3C-6.8 5.3 -10.9 3.1 -12.4 0Z" class="b"/><path d="M12.4 0C10.9 3.1 6.8 5.3 0 5.3C3.7 3.7 7.5 2.4 12.4 0Z" fill="#1c168e"/><ellipse cx="-9.9" cy="1.6" rx="1.1" ry="0.8" fill="#b3b0f7"/></g>
<g transform="translate(840.6 2388.4) rotate(-164.4)"><path d="M-10.8 0C-9.5 -3.1 -6 -5.3 0 -5.3C6 -5.3 9.5 -3.1 10.8 0C9.5 3.1 6 5.3 0 5.3C-6 5.3 -9.5 3.1 -10.8 0Z" class="b"/><path d="M10.8 0C9.5 3.1 6 5.3 0 5.3C3.2 3.7 6.5 2.4 10.8 0Z" fill="#1c168e"/><ellipse cx="-8.7" cy="1.6" rx="1.1" ry="0.8" fill="#b3b0f7"/></g>
<g transform="translate(821.7 2383.1) rotate(-164.4)"><path d="M-10.8 0C-9.5 -3.1 -6 -5.3 0 -5.3C6 -5.3 9.5 -3.1 10.8 0C9.5 3.1 6 5.3 0 5.3C-6 5.3 -9.5 3.1 -10.8 0Z" class="b"/><path d="M10.8 0C9.5 3.1 6 5.3 0 5.3C3.2 3.7 6.5 2.4 10.8 0Z" fill="#1c168e"/><ellipse cx="-8.7" cy="1.6" rx="1.1" ry="0.8" fill="#b3b0f7"/></g>
<g transform="translate(802.7 2377.8) rotate(-164.4)"><path d="M-10.8 0C-9.5 -3.1 -6 -5.3 0 -5.3C6 -5.3 9.5 -3.1 10.8 0C9.5 3.1 6 5.3 0 5.3C-6 5.3 -9.5 3.1 -10.8 0Z" class="b"/><path d="M10.8 0C9.5 3.1 6 5.3 0 5.3C3.2 3.7 6.5 2.4 10.8 0Z" fill="#1c168e"/><ellipse cx="-8.7" cy="1.6" rx="1.1" ry="0.8" fill="#b3b0f7"/></g>
<g transform="translate(848.8 2349) rotate(175.5)"><path d="M-11.8 0C-10.4 -3.1 -6.5 -5.3 0 -5.3C6.5 -5.3 10.4 -3.1 11.8 0C10.4 3.1 6.5 5.3 0 5.3C-6.5 5.3 -10.4 3.1 -11.8 0Z" class="b"/><path d="M11.8 0C10.4 3.1 6.5 5.3 0 5.3C3.5 3.7 7.1 2.4 11.8 0Z" fill="#1c168e"/><ellipse cx="-9.4" cy="1.6" rx="1.1" ry="0.8" fill="#b3b0f7"/></g>
<g transform="translate(827.5 2350.7) rotate(175.5)"><path d="M-11.8 0C-10.4 -3.1 -6.5 -5.3 0 -5.3C6.5 -5.3 10.4 -3.1 11.8 0C10.4 3.1 6.5 5.3 0 5.3C-6.5 5.3 -10.4 3.1 -11.8 0Z" class="b"/><path d="M11.8 0C10.4 3.1 6.5 5.3 0 5.3C3.5 3.7 7.1 2.4 11.8 0Z" fill="#1c168e"/><ellipse cx="-9.4" cy="1.6" rx="1.1" ry="0.8" fill="#b3b0f7"/></g>
<g transform="translate(806.1 2352.4) rotate(175.5)"><path d="M-11.8 0C-10.4 -3.1 -6.5 -5.3 0 -5.3C6.5 -5.3 10.4 -3.1 11.8 0C10.4 3.1 6.5 5.3 0 5.3C-6.5 5.3 -10.4 3.1 -11.8 0Z" class="b"/><path d="M11.8 0C10.4 3.1 6.5 5.3 0 5.3C3.5 3.7 7.1 2.4 11.8 0Z" fill="#1c168e"/><ellipse cx="-9.4" cy="1.6" rx="1.1" ry="0.8" fill="#b3b0f7"/></g>
<g transform="translate(838 2314.6) rotate(157.5)"><path d="M-11.2 0C-9.9 -3.1 -6.2 -5.3 0 -5.3C6.2 -5.3 9.9 -3.1 11.2 0C9.9 3.1 6.2 5.3 0 5.3C-6.2 5.3 -9.9 3.1 -11.2 0Z" class="b"/><path d="M11.2 0C9.9 3.1 6.2 5.3 0 5.3C3.4 3.7 6.7 2.4 11.2 0Z" fill="#1c168e"/><ellipse cx="-9" cy="1.6" rx="1.1" ry="0.8" fill="#b3b0f7"/></g>
<g transform="translate(819.1 2322.4) rotate(157.5)"><path d="M-11.2 0C-9.9 -3.1 -6.2 -5.3 0 -5.3C6.2 -5.3 9.9 -3.1 11.2 0C9.9 3.1 6.2 5.3 0 5.3C-6.2 5.3 -9.9 3.1 -11.2 0Z" class="b"/><path d="M11.2 0C9.9 3.1 6.2 5.3 0 5.3C3.4 3.7 6.7 2.4 11.2 0Z" fill="#1c168e"/><ellipse cx="-9" cy="1.6" rx="1.1" ry="0.8" fill="#b3b0f7"/></g>
<g transform="translate(800.2 2330.2) rotate(157.5)"><path d="M-11.2 0C-9.9 -3.1 -6.2 -5.3 0 -5.3C6.2 -5.3 9.9 -3.1 11.2 0C9.9 3.1 6.2 5.3 0 5.3C-6.2 5.3 -9.9 3.1 -11.2 0Z" class="b"/><path d="M11.2 0C9.9 3.1 6.2 5.3 0 5.3C3.4 3.7 6.7 2.4 11.2 0Z" fill="#1c168e"/><ellipse cx="-9" cy="1.6" rx="1.1" ry="0.8" fill="#b3b0f7"/></g>
<g transform="translate(818.3 2281.5) rotate(138.2)"><path d="M-11.4 0C-10.1 -3.1 -6.3 -5.3 0 -5.3C6.3 -5.3 10.1 -3.1 11.4 0C10.1 3.1 6.3 5.3 0 5.3C-6.3 5.3 -10.1 3.1 -11.4 0Z" class="b"/><path d="M11.4 0C10.1 3.1 6.3 5.3 0 5.3C3.4 3.7 6.9 2.4 11.4 0Z" fill="#1c168e"/><ellipse cx="-9.1" cy="1.6" rx="1.1" ry="0.8" fill="#b3b0f7"/></g>
<g transform="translate(802.8 2295.4) rotate(138.2)"><path d="M-11.4 0C-10.1 -3.1 -6.3 -5.3 0 -5.3C6.3 -5.3 10.1 -3.1 11.4 0C10.1 3.1 6.3 5.3 0 5.3C-6.3 5.3 -10.1 3.1 -11.4 0Z" class="b"/><path d="M11.4 0C10.1 3.1 6.3 5.3 0 5.3C3.4 3.7 6.9 2.4 11.4 0Z" fill="#1c168e"/><ellipse cx="-9.1" cy="1.6" rx="1.1" ry="0.8" fill="#b3b0f7"/></g>
<g transform="translate(787.3 2309.3) rotate(138.2)"><path d="M-11.4 0C-10.1 -3.1 -6.3 -5.3 0 -5.3C6.3 -5.3 10.1 -3.1 11.4 0C10.1 3.1 6.3 5.3 0 5.3C-6.3 5.3 -10.1 3.1 -11.4 0Z" class="b"/><path d="M11.4 0C10.1 3.1 6.3 5.3 0 5.3C3.4 3.7 6.9 2.4 11.4 0Z" fill="#1c168e"/><ellipse cx="-9.1" cy="1.6" rx="1.1" ry="0.8" fill="#b3b0f7"/></g>
<g transform="translate(785.2 2259.1) rotate(118)"><path d="M-10.8 0C-9.5 -3.1 -6 -5.3 0 -5.3C6 -5.3 9.5 -3.1 10.8 0C9.5 3.1 6 5.3 0 5.3C-6 5.3 -9.5 3.1 -10.8 0Z" class="b"/><path d="M10.8 0C9.5 3.1 6 5.3 0 5.3C3.2 3.7 6.5 2.4 10.8 0Z" fill="#1c168e"/><ellipse cx="-8.7" cy="1.6" rx="1.1" ry="0.8" fill="#b3b0f7"/></g>
<g transform="translate(776 2276.5) rotate(118)"><path d="M-10.8 0C-9.5 -3.1 -6 -5.3 0 -5.3C6 -5.3 9.5 -3.1 10.8 0C9.5 3.1 6 5.3 0 5.3C-6 5.3 -9.5 3.1 -10.8 0Z" class="b"/><path d="M10.8 0C9.5 3.1 6 5.3 0 5.3C3.2 3.7 6.5 2.4 10.8 0Z" fill="#1c168e"/><ellipse cx="-8.7" cy="1.6" rx="1.1" ry="0.8" fill="#b3b0f7"/></g>
<g transform="translate(766.7 2293.9) rotate(118)"><path d="M-10.8 0C-9.5 -3.1 -6 -5.3 0 -5.3C6 -5.3 9.5 -3.1 10.8 0C9.5 3.1 6 5.3 0 5.3C-6 5.3 -9.5 3.1 -10.8 0Z" class="b"/><path d="M10.8 0C9.5 3.1 6 5.3 0 5.3C3.2 3.7 6.5 2.4 10.8 0Z" fill="#1c168e"/><ellipse cx="-8.7" cy="1.6" rx="1.1" ry="0.8" fill="#b3b0f7"/></g>
<circle cx="732.6" cy="2358.2" r="65.2" fill="#000"/>
<g transform="translate(763 2156.7) rotate(97.8)"><rect x="0.8" y="-6.3" width="18" height="12.6" class="m"/><rect x="20.4" y="-6.3" width="18" height="12.6" class="m"/><rect x="40" y="-6.3" width="18" height="12.6" class="m"/><rect x="59.6" y="-6.3" width="18" height="12.6" class="m"/><path d="M19.6 -5.6V5.6M39.2 -5.6V5.6M58.8 -5.6V5.6" class="g"/></g>
<g transform="translate(705.4 2163.4) rotate(83.1)"><rect x="0.8" y="-6.3" width="18" height="12.6" class="m"/><rect x="20.4" y="-6.3" width="18" height="12.6" class="m"/><rect x="39.9" y="-6.3" width="18" height="12.6" class="m"/><rect x="59.5" y="-6.3" width="18" height="12.6" class="m"/><path d="M19.6 -5.6V5.6M39.1 -5.6V5.6M58.7 -5.6V5.6" class="g"/></g>
<g transform="translate(635.8 2184.8) rotate(60.4)"><rect x="0.8" y="-6.3" width="18" height="12.6" class="m"/><rect x="20.4" y="-6.3" width="18" height="12.6" class="m"/><rect x="40.1" y="-6.3" width="18" height="12.6" class="m"/><rect x="59.7" y="-6.3" width="18" height="12.6" class="m"/><path d="M19.6 -5.6V5.6M39.3 -5.6V5.6M58.9 -5.6V5.6" class="g"/></g>
<g transform="translate(595.6 2226.3) rotate(49.3)"><rect x="0.8" y="-6.3" width="17.4" height="12.6" class="m"/><rect x="19.8" y="-6.3" width="17.4" height="12.6" class="m"/><rect x="38.8" y="-6.3" width="17.4" height="12.6" class="m"/><rect x="57.8" y="-6.3" width="17.4" height="12.6" class="m"/><path d="M19 -5.6V5.6M38 -5.6V5.6M57 -5.6V5.6" class="g"/></g>
<g transform="translate(550.1 2285.3) rotate(24.8)"><rect x="0.8" y="-6.3" width="17.6" height="12.6" class="m"/><rect x="20" y="-6.3" width="17.6" height="12.6" class="m"/><rect x="39.1" y="-6.3" width="17.6" height="12.6" class="m"/><rect x="58.3" y="-6.3" width="17.6" height="12.6" class="m"/><path d="M19.2 -5.6V5.6M38.3 -5.6V5.6M57.5 -5.6V5.6" class="g"/></g>
<g transform="translate(538 2341.5) rotate(6.8)"><rect x="0.8" y="-6.3" width="18.3" height="12.6" class="m"/><rect x="20.7" y="-6.3" width="18.3" height="12.6" class="m"/><rect x="40.6" y="-6.3" width="18.3" height="12.6" class="m"/><rect x="60.5" y="-6.3" width="18.3" height="12.6" class="m"/><path d="M19.9 -5.6V5.6M39.8 -5.6V5.6M59.7 -5.6V5.6" class="g"/></g>
<g transform="translate(542.1 2415.2) rotate(-14.8)"><rect x="0.8" y="-6.3" width="18.1" height="12.6" class="m"/><rect x="20.5" y="-6.3" width="18.1" height="12.6" class="m"/><rect x="40.3" y="-6.3" width="18.1" height="12.6" class="m"/><rect x="60" y="-6.3" width="18.1" height="12.6" class="m"/><path d="M19.7 -5.6V5.6M39.5 -5.6V5.6M59.2 -5.6V5.6" class="g"/></g>
<g transform="translate(560.8 2460.7) rotate(-24.3)"><rect x="0.8" y="-6.3" width="17.9" height="12.6" class="m"/><rect x="20.3" y="-6.3" width="17.9" height="12.6" class="m"/><rect x="39.8" y="-6.3" width="17.9" height="12.6" class="m"/><rect x="59.2" y="-6.3" width="17.9" height="12.6" class="m"/><path d="M19.5 -5.6V5.6M39 -5.6V5.6M58.4 -5.6V5.6" class="g"/></g>
<g transform="translate(602.3 2521) rotate(-46.4)"><rect x="0.8" y="-6.3" width="18.3" height="12.6" class="m"/><rect x="20.7" y="-6.3" width="18.3" height="12.6" class="m"/><rect x="40.6" y="-6.3" width="18.3" height="12.6" class="m"/><rect x="60.5" y="-6.3" width="18.3" height="12.6" class="m"/><path d="M19.9 -5.6V5.6M39.8 -5.6V5.6M59.7 -5.6V5.6" class="g"/></g>
<g transform="translate(655.9 2543.8) rotate(-64)"><rect x="0.8" y="-6.3" width="16.7" height="12.6" class="m"/><rect x="19.1" y="-6.3" width="16.7" height="12.6" class="m"/><rect x="37.4" y="-6.3" width="16.7" height="12.6" class="m"/><rect x="55.6" y="-6.3" width="16.7" height="12.6" class="m"/><path d="M18.3 -5.6V5.6M36.6 -5.6V5.6M54.8 -5.6V5.6" class="g"/></g>
<g transform="translate(728.2 2562.5) rotate(-90)"><rect x="0.8" y="-6.3" width="16.5" height="12.6" class="m"/><rect x="18.9" y="-6.3" width="16.5" height="12.6" class="m"/><rect x="37" y="-6.3" width="16.5" height="12.6" class="m"/><rect x="55" y="-6.3" width="16.5" height="12.6" class="m"/><path d="M18.1 -5.6V5.6M36.2 -5.6V5.6M54.2 -5.6V5.6" class="g"/></g>
<g transform="translate(749.6 2559.8) rotate(-91)"><rect x="0.8" y="-6.3" width="16.8" height="12.6" class="m"/><rect x="19.2" y="-6.3" width="16.8" height="12.6" class="m"/><rect x="37.6" y="-6.3" width="16.8" height="12.6" class="m"/><rect x="56" y="-6.3" width="16.8" height="12.6" class="m"/><path d="M18.4 -5.6V5.6M36.8 -5.6V5.6M55.2 -5.6V5.6" class="g"/></g>
<g transform="translate(823.3 2549.1) rotate(-113.9)"><rect x="0.8" y="-6.3" width="17.4" height="12.6" class="m"/><rect x="19.8" y="-6.3" width="17.4" height="12.6" class="m"/><rect x="38.9" y="-6.3" width="17.4" height="12.6" class="m"/><rect x="57.9" y="-6.3" width="17.4" height="12.6" class="m"/><path d="M19 -5.6V5.6M38.1 -5.6V5.6M57.1 -5.6V5.6" class="g"/></g>
<g transform="translate(867.5 2511.6) rotate(-130)"><rect x="0.8" y="-6.3" width="17.6" height="12.6" class="m"/><rect x="20" y="-6.3" width="17.6" height="12.6" class="m"/><rect x="39.3" y="-6.3" width="17.6" height="12.6" class="m"/><rect x="58.5" y="-6.3" width="17.6" height="12.6" class="m"/><path d="M19.2 -5.6V5.6M38.5 -5.6V5.6M57.7 -5.6V5.6" class="g"/></g>
<g transform="translate(915.7 2456.7) rotate(-154.3)"><rect x="0.8" y="-6.3" width="17.7" height="12.6" class="m"/><rect x="20.1" y="-6.3" width="17.7" height="12.6" class="m"/><rect x="39.4" y="-6.3" width="17.7" height="12.6" class="m"/><rect x="58.7" y="-6.3" width="17.7" height="12.6" class="m"/><path d="M19.3 -5.6V5.6M38.6 -5.6V5.6M57.9 -5.6V5.6" class="g"/></g>
<g transform="translate(921.1 2415.2) rotate(-161.3)"><rect x="0.8" y="-6.3" width="17.1" height="12.6" class="m"/><rect x="19.5" y="-6.3" width="17.1" height="12.6" class="m"/><rect x="38.3" y="-6.3" width="17.1" height="12.6" class="m"/><rect x="57" y="-6.3" width="17.1" height="12.6" class="m"/><path d="M18.7 -5.6V5.6M37.5 -5.6V5.6M56.2 -5.6V5.6" class="g"/></g>
<g transform="translate(937.1 2345.5) rotate(178)"><rect x="0.8" y="-6.3" width="17.8" height="12.6" class="m"/><rect x="20.2" y="-6.3" width="17.8" height="12.6" class="m"/><rect x="39.6" y="-6.3" width="17.8" height="12.6" class="m"/><rect x="59" y="-6.3" width="17.8" height="12.6" class="m"/><path d="M19.4 -5.6V5.6M38.8 -5.6V5.6M58.2 -5.6V5.6" class="g"/></g>
<g transform="translate(919.7 2290.6) rotate(164.5)"><rect x="0.8" y="-6.3" width="17.2" height="12.6" class="m"/><rect x="19.6" y="-6.3" width="17.2" height="12.6" class="m"/><rect x="38.3" y="-6.3" width="17.2" height="12.6" class="m"/><rect x="57.1" y="-6.3" width="17.2" height="12.6" class="m"/><path d="M18.8 -5.6V5.6M37.5 -5.6V5.6M56.3 -5.6V5.6" class="g"/></g>
<g transform="translate(884.9 2226.3) rotate(140.6)"><rect x="0.8" y="-6.3" width="17.4" height="12.6" class="m"/><rect x="19.8" y="-6.3" width="17.4" height="12.6" class="m"/><rect x="38.9" y="-6.3" width="17.4" height="12.6" class="m"/><rect x="57.9" y="-6.3" width="17.4" height="12.6" class="m"/><path d="M19 -5.6V5.6M38.1 -5.6V5.6M57.1 -5.6V5.6" class="g"/></g>
<g transform="translate(834 2187.5) rotate(125.1)"><rect x="0.8" y="-6.3" width="17.6" height="12.6" class="m"/><rect x="20" y="-6.3" width="17.6" height="12.6" class="m"/><rect x="39.2" y="-6.3" width="17.6" height="12.6" class="m"/><rect x="58.5" y="-6.3" width="17.6" height="12.6" class="m"/><path d="M19.2 -5.6V5.6M38.4 -5.6V5.6M57.7 -5.6V5.6" class="g"/></g>
<circle cx="1375.3" cy="2366.2" r="130.6" fill="#d8d7dd" stroke="#85858b" stroke-width="1.2"/>
<path d="M1254.3 2336 L1255.9 2330.2 L1257.8 2324.5 L1259.9 2318.8 L1262.4 2313.3 L1265.1 2307.9 L1268 2302.6 L1271.2 2297.5 L1274.7 2292.5 L1278.4 2287.7 L1282.3 2283.1 L1286.4 2278.7 L1290.8 2274.5 L1295.3 2270.5 L1300 2266.7 L1305 2263.2 L1310 2259.9 L1315.3 2256.9 L1320.6 2254.1 L1326.1 2251.6 L1331.7 2249.3 L1337.4 2247.4 L1343.3 2245.7 L1349.1 2244.3 L1355.1 2243.1 L1361.1 2242.3 L1367.1 2241.7 L1373.1 2241.5 L1379.2 2241.5 L1385.2 2241.9 L1391.2 2242.5 L1397.2 2243.4 L1403.1 2244.6 L1409 2246.1 L1414.8 2247.9 L1420.4 2249.9 L1426 2252.3 L1426 2252.3 L1420 2251 L1414.1 2249.8 L1408.2 2248.8 L1402.4 2248 L1396.5 2247.4 L1390.6 2247.1 L1384.8 2247 L1379 2247.2 L1373.2 2247.6 L1367.5 2248.3 L1361.8 2249.2 L1356.2 2250.2 L1350.7 2251.6 L1345.2 2253.1 L1339.8 2254.9 L1334.5 2256.8 L1329.3 2259 L1324.2 2261.4 L1319.1 2264 L1314.2 2266.7 L1309.4 2269.7 L1304.7 2272.9 L1300.1 2276.2 L1295.7 2279.8 L1291.3 2283.5 L1287.2 2287.5 L1283.1 2291.6 L1279.3 2295.9 L1275.6 2300.3 L1272 2305 L1268.7 2309.8 L1265.5 2314.7 L1262.5 2319.8 L1259.7 2325.1 L1257 2330.5 L1254.3 2336Z" fill="#ebebef"/>
<g transform="translate(1386.6 2155.2) rotate(91)"><path d="M-11.6 0C-10.2 -3.8 -6.4 -6.6 0 -6.6C6.4 -6.6 10.2 -3.8 11.6 0C10.2 3.8 6.4 6.6 0 6.6C-6.4 6.6 -10.2 3.8 -11.6 0Z" class="b"/><path d="M11.6 0C10.2 3.8 6.4 6.6 0 6.6C3.5 4.6 7 3 11.6 0Z" fill="#1c168e"/><ellipse cx="-9.3" cy="2" rx="1.1" ry="0.8" fill="#b3b0f7"/></g>
<g transform="translate(1386.2 2177.2) rotate(91)"><path d="M-11.6 0C-10.2 -3.8 -6.4 -6.6 0 -6.6C6.4 -6.6 10.2 -3.8 11.6 0C10.2 3.8 6.4 6.6 0 6.6C-6.4 6.6 -10.2 3.8 -11.6 0Z" class="b"/><path d="M11.6 0C10.2 3.8 6.4 6.6 0 6.6C3.5 4.6 7 3 11.6 0Z" fill="#1c168e"/><ellipse cx="-9.3" cy="2" rx="1.1" ry="0.8" fill="#b3b0f7"/></g>
<g transform="translate(1385.9 2199.1) rotate(91)"><path d="M-11.6 0C-10.2 -3.8 -6.4 -6.6 0 -6.6C6.4 -6.6 10.2 -3.8 11.6 0C10.2 3.8 6.4 6.6 0 6.6C-6.4 6.6 -10.2 3.8 -11.6 0Z" class="b"/><path d="M11.6 0C10.2 3.8 6.4 6.6 0 6.6C3.5 4.6 7 3 11.6 0Z" fill="#1c168e"/><ellipse cx="-9.3" cy="2" rx="1.1" ry="0.8" fill="#b3b0f7"/></g>
<g transform="translate(1385.5 2221) rotate(91)"><path d="M-11.6 0C-10.2 -3.8 -6.4 -6.6 0 -6.6C6.4 -6.6 10.2 -3.8 11.6 0C10.2 3.8 6.4 6.6 0 6.6C-6.4 6.6 -10.2 3.8 -11.6 0Z" class="b"/><path d="M11.6 0C10.2 3.8 6.4 6.6 0 6.6C3.5 4.6 7 3 11.6 0Z" fill="#1c168e"/><ellipse cx="-9.3" cy="2" rx="1.1" ry="0.8" fill="#b3b0f7"/></g>
<g transform="translate(1309.8 2166) rotate(71.5)"><path d="M-11.4 0C-10.1 -3.8 -6.3 -6.6 0 -6.6C6.3 -6.6 10.1 -3.8 11.4 0C10.1 3.8 6.3 6.6 0 6.6C-6.3 6.6 -10.1 3.8 -11.4 0Z" class="b"/><path d="M11.4 0C10.1 3.8 6.3 6.6 0 6.6C3.4 4.6 6.9 3 11.4 0Z" fill="#1c168e"/><ellipse cx="-9.1" cy="2" rx="1.1" ry="0.8" fill="#b3b0f7"/></g>
<g transform="translate(1316.6 2186.5) rotate(71.5)"><path d="M-11.4 0C-10.1 -3.8 -6.3 -6.6 0 -6.6C6.3 -6.6 10.1 -3.8 11.4 0C10.1 3.8 6.3 6.6 0 6.6C-6.3 6.6 -10.1 3.8 -11.4 0Z" class="b"/><path d="M11.4 0C10.1 3.8 6.3 6.6 0 6.6C3.4 4.6 6.9 3 11.4 0Z" fill="#1c168e"/><ellipse cx="-9.1" cy="2" rx="1.1" ry="0.8" fill="#b3b0f7"/></g>
<g transform="translate(1323.5 2206.9) rotate(71.5)"><path d="M-11.4 0C-10.1 -3.8 -6.3 -6.6 0 -6.6C6.3 -6.6 10.1 -3.8 11.4 0C10.1 3.8 6.3 6.6 0 6.6C-6.3 6.6 -10.1 3.8 -11.4 0Z" class="b"/><path d="M11.4 0C10.1 3.8 6.3 6.6 0 6.6C3.4 4.6 6.9 3 11.4 0Z" fill="#1c168e"/><ellipse cx="-9.1" cy="2" rx="1.1" ry="0.8" fill="#b3b0f7"/></g>
<g transform="translate(1330.3 2227.4) rotate(71.5)"><path d="M-11.4 0C-10.1 -3.8 -6.3 -6.6 0 -6.6C6.3 -6.6 10.1 -3.8 11.4 0C10.1 3.8 6.3 6.6 0 6.6C-6.3 6.6 -10.1 3.8 -11.4 0Z" class="b"/><path d="M11.4 0C10.1 3.8 6.3 6.6 0 6.6C3.4 4.6 6.9 3 11.4 0Z" fill="#1c168e"/><ellipse cx="-9.1" cy="2" rx="1.1" ry="0.8" fill="#b3b0f7"/></g>
<g transform="translate(1247.4 2195.3) rotate(48.4)"><path d="M-11.2 0C-9.8 -3.8 -6.1 -6.6 0 -6.6C6.1 -6.6 9.8 -3.8 11.2 0C9.8 3.8 6.1 6.6 0 6.6C-6.1 6.6 -9.8 3.8 -11.2 0Z" class="b"/><path d="M11.2 0C9.8 3.8 6.1 6.6 0 6.6C3.4 4.6 6.7 3 11.2 0Z" fill="#1c168e"/><ellipse cx="-8.9" cy="2" rx="1.1" ry="0.8" fill="#b3b0f7"/></g>
<g transform="translate(1261.4 2211.1) rotate(48.4)"><path d="M-11.2 0C-9.8 -3.8 -6.1 -6.6 0 -6.6C6.1 -6.6 9.8 -3.8 11.2 0C9.8 3.8 6.1 6.6 0 6.6C-6.1 6.6 -9.8 3.8 -11.2 0Z" class="b"/><path d="M11.2 0C9.8 3.8 6.1 6.6 0 6.6C3.4 4.6 6.7 3 11.2 0Z" fill="#1c168e"/><ellipse cx="-8.9" cy="2" rx="1.1" ry="0.8" fill="#b3b0f7"/></g>
<g transform="translate(1275.4 2226.8) rotate(48.4)"><path d="M-11.2 0C-9.8 -3.8 -6.1 -6.6 0 -6.6C6.1 -6.6 9.8 -3.8 11.2 0C9.8 3.8 6.1 6.6 0 6.6C-6.1 6.6 -9.8 3.8 -11.2 0Z" class="b"/><path d="M11.2 0C9.8 3.8 6.1 6.6 0 6.6C3.4 4.6 6.7 3 11.2 0Z" fill="#1c168e"/><ellipse cx="-8.9" cy="2" rx="1.1" ry="0.8" fill="#b3b0f7"/></g>
<g transform="translate(1289.4 2242.6) rotate(48.4)"><path d="M-11.2 0C-9.8 -3.8 -6.1 -6.6 0 -6.6C6.1 -6.6 9.8 -3.8 11.2 0C9.8 3.8 6.1 6.6 0 6.6C-6.1 6.6 -9.8 3.8 -11.2 0Z" class="b"/><path d="M11.2 0C9.8 3.8 6.1 6.6 0 6.6C3.4 4.6 6.7 3 11.2 0Z" fill="#1c168e"/><ellipse cx="-8.9" cy="2" rx="1.1" ry="0.8" fill="#b3b0f7"/></g>
<g transform="translate(1196.5 2253.3) rotate(31.3)"><path d="M-11.4 0C-10 -3.8 -6.2 -6.6 0 -6.6C6.2 -6.6 10 -3.8 11.4 0C10 3.8 6.2 6.6 0 6.6C-6.2 6.6 -10 3.8 -11.4 0Z" class="b"/><path d="M11.4 0C10 3.8 6.2 6.6 0 6.6C3.4 4.6 6.8 3 11.4 0Z" fill="#1c168e"/><ellipse cx="-9.1" cy="2" rx="1.1" ry="0.8" fill="#b3b0f7"/></g>
<g transform="translate(1214.8 2264.4) rotate(31.3)"><path d="M-11.4 0C-10 -3.8 -6.2 -6.6 0 -6.6C6.2 -6.6 10 -3.8 11.4 0C10 3.8 6.2 6.6 0 6.6C-6.2 6.6 -10 3.8 -11.4 0Z" class="b"/><path d="M11.4 0C10 3.8 6.2 6.6 0 6.6C3.4 4.6 6.8 3 11.4 0Z" fill="#1c168e"/><ellipse cx="-9.1" cy="2" rx="1.1" ry="0.8" fill="#b3b0f7"/></g>
<g transform="translate(1233 2275.5) rotate(31.3)"><path d="M-11.4 0C-10 -3.8 -6.2 -6.6 0 -6.6C6.2 -6.6 10 -3.8 11.4 0C10 3.8 6.2 6.6 0 6.6C-6.2 6.6 -10 3.8 -11.4 0Z" class="b"/><path d="M11.4 0C10 3.8 6.2 6.6 0 6.6C3.4 4.6 6.8 3 11.4 0Z" fill="#1c168e"/><ellipse cx="-9.1" cy="2" rx="1.1" ry="0.8" fill="#b3b0f7"/></g>
<g transform="translate(1251.3 2286.6) rotate(31.3)"><path d="M-11.4 0C-10 -3.8 -6.2 -6.6 0 -6.6C6.2 -6.6 10 -3.8 11.4 0C10 3.8 6.2 6.6 0 6.6C-6.2 6.6 -10 3.8 -11.4 0Z" class="b"/><path d="M11.4 0C10 3.8 6.2 6.6 0 6.6C3.4 4.6 6.8 3 11.4 0Z" fill="#1c168e"/><ellipse cx="-9.1" cy="2" rx="1.1" ry="0.8" fill="#b3b0f7"/></g>
<g transform="translate(1163.8 2341.4) rotate(2.8)"><path d="M-11.6 0C-10.2 -3.8 -6.4 -6.6 0 -6.6C6.4 -6.6 10.2 -3.8 11.6 0C10.2 3.8 6.4 6.6 0 6.6C-6.4 6.6 -10.2 3.8 -11.6 0Z" class="b"/><path d="M11.6 0C10.2 3.8 6.4 6.6 0 6.6C3.5 4.6 7 3 11.6 0Z" fill="#1c168e"/><ellipse cx="-9.3" cy="2" rx="1.1" ry="0.8" fill="#b3b0f7"/></g>
<g transform="translate(1185.7 2342.5) rotate(2.8)"><path d="M-11.6 0C-10.2 -3.8 -6.4 -6.6 0 -6.6C6.4 -6.6 10.2 -3.8 11.6 0C10.2 3.8 6.4 6.6 0 6.6C-6.4 6.6 -10.2 3.8 -11.6 0Z" class="b"/><path d="M11.6 0C10.2 3.8 6.4 6.6 0 6.6C3.5 4.6 7 3 11.6 0Z" fill="#1c168e"/><ellipse cx="-9.3" cy="2" rx="1.1" ry="0.8" fill="#b3b0f7"/></g>
<g transform="translate(1207.6 2343.6) rotate(2.8)"><path d="M-11.6 0C-10.2 -3.8 -6.4 -6.6 0 -6.6C6.4 -6.6 10.2 -3.8 11.6 0C10.2 3.8 6.4 6.6 0 6.6C-6.4 6.6 -10.2 3.8 -11.6 0Z" class="b"/><path d="M11.6 0C10.2 3.8 6.4 6.6 0 6.6C3.5 4.6 7 3 11.6 0Z" fill="#1c168e"/><ellipse cx="-9.3" cy="2" rx="1.1" ry="0.8" fill="#b3b0f7"/></g>
<g transform="translate(1229.5 2344.7) rotate(2.8)"><path d="M-11.6 0C-10.2 -3.8 -6.4 -6.6 0 -6.6C6.4 -6.6 10.2 -3.8 11.6 0C10.2 3.8 6.4 6.6 0 6.6C-6.4 6.6 -10.2 3.8 -11.6 0Z" class="b"/><path d="M11.6 0C10.2 3.8 6.4 6.6 0 6.6C3.5 4.6 7 3 11.6 0Z" fill="#1c168e"/><ellipse cx="-9.3" cy="2" rx="1.1" ry="0.8" fill="#b3b0f7"/></g>
<g transform="translate(1171.7 2418.6) rotate(-14.7)"><path d="M-11.2 0C-9.9 -3.8 -6.2 -6.6 0 -6.6C6.2 -6.6 9.9 -3.8 11.2 0C9.9 3.8 6.2 6.6 0 6.6C-6.2 6.6 -9.9 3.8 -11.2 0Z" class="b"/><path d="M11.2 0C9.9 3.8 6.2 6.6 0 6.6C3.4 4.6 6.7 3 11.2 0Z" fill="#1c168e"/><ellipse cx="-9" cy="2" rx="1.1" ry="0.8" fill="#b3b0f7"/></g>
<g transform="translate(1192.2 2413.2) rotate(-14.7)"><path d="M-11.2 0C-9.9 -3.8 -6.2 -6.6 0 -6.6C6.2 -6.6 9.9 -3.8 11.2 0C9.9 3.8 6.2 6.6 0 6.6C-6.2 6.6 -9.9 3.8 -11.2 0Z" class="b"/><path d="M11.2 0C9.9 3.8 6.2 6.6 0 6.6C3.4 4.6 6.7 3 11.2 0Z" fill="#1c168e"/><ellipse cx="-9" cy="2" rx="1.1" ry="0.8" fill="#b3b0f7"/></g>
<g transform="translate(1212.6 2407.9) rotate(-14.7)"><path d="M-11.2 0C-9.9 -3.8 -6.2 -6.6 0 -6.6C6.2 -6.6 9.9 -3.8 11.2 0C9.9 3.8 6.2 6.6 0 6.6C-6.2 6.6 -9.9 3.8 -11.2 0Z" class="b"/><path d="M11.2 0C9.9 3.8 6.2 6.6 0 6.6C3.4 4.6 6.7 3 11.2 0Z" fill="#1c168e"/><ellipse cx="-9" cy="2" rx="1.1" ry="0.8" fill="#b3b0f7"/></g>
<g transform="translate(1233.1 2402.5) rotate(-14.7)"><path d="M-11.2 0C-9.9 -3.8 -6.2 -6.6 0 -6.6C6.2 -6.6 9.9 -3.8 11.2 0C9.9 3.8 6.2 6.6 0 6.6C-6.2 6.6 -9.9 3.8 -11.2 0Z" class="b"/><path d="M11.2 0C9.9 3.8 6.2 6.6 0 6.6C3.4 4.6 6.7 3 11.2 0Z" fill="#1c168e"/><ellipse cx="-9" cy="2" rx="1.1" ry="0.8" fill="#b3b0f7"/></g>
<g transform="translate(1216.5 2500.2) rotate(-42.9)"><path d="M-11.2 0C-9.8 -3.8 -6.1 -6.6 0 -6.6C6.1 -6.6 9.8 -3.8 11.2 0C9.8 3.8 6.1 6.6 0 6.6C-6.1 6.6 -9.8 3.8 -11.2 0Z" class="b"/><path d="M11.2 0C9.8 3.8 6.1 6.6 0 6.6C3.3 4.6 6.7 3 11.2 0Z" fill="#1c168e"/><ellipse cx="-8.9" cy="2" rx="1.1" ry="0.8" fill="#b3b0f7"/></g>
<g transform="translate(1231.9 2485.9) rotate(-42.9)"><path d="M-11.2 0C-9.8 -3.8 -6.1 -6.6 0 -6.6C6.1 -6.6 9.8 -3.8 11.2 0C9.8 3.8 6.1 6.6 0 6.6C-6.1 6.6 -9.8 3.8 -11.2 0Z" class="b"/><path d="M11.2 0C9.8 3.8 6.1 6.6 0 6.6C3.3 4.6 6.7 3 11.2 0Z" fill="#1c168e"/><ellipse cx="-8.9" cy="2" rx="1.1" ry="0.8" fill="#b3b0f7"/></g>
<g transform="translate(1247.4 2471.5) rotate(-42.9)"><path d="M-11.2 0C-9.8 -3.8 -6.1 -6.6 0 -6.6C6.1 -6.6 9.8 -3.8 11.2 0C9.8 3.8 6.1 6.6 0 6.6C-6.1 6.6 -9.8 3.8 -11.2 0Z" class="b"/><path d="M11.2 0C9.8 3.8 6.1 6.6 0 6.6C3.3 4.6 6.7 3 11.2 0Z" fill="#1c168e"/><ellipse cx="-8.9" cy="2" rx="1.1" ry="0.8" fill="#b3b0f7"/></g>
<g transform="translate(1262.8 2457.2) rotate(-42.9)"><path d="M-11.2 0C-9.8 -3.8 -6.1 -6.6 0 -6.6C6.1 -6.6 9.8 -3.8 11.2 0C9.8 3.8 6.1 6.6 0 6.6C-6.1 6.6 -9.8 3.8 -11.2 0Z" class="b"/><path d="M11.2 0C9.8 3.8 6.1 6.6 0 6.6C3.3 4.6 6.7 3 11.2 0Z" fill="#1c168e"/><ellipse cx="-8.9" cy="2" rx="1.1" ry="0.8" fill="#b3b0f7"/></g>
<g transform="translate(1277.2 2548.3) rotate(-60.9)"><path d="M-11.3 0C-10 -3.8 -6.2 -6.6 0 -6.6C6.2 -6.6 10 -3.8 11.3 0C10 3.8 6.2 6.6 0 6.6C-6.2 6.6 -10 3.8 -11.3 0Z" class="b"/><path d="M11.3 0C10 3.8 6.2 6.6 0 6.6C3.4 4.6 6.8 3 11.3 0Z" fill="#1c168e"/><ellipse cx="-9.1" cy="2" rx="1.1" ry="0.8" fill="#b3b0f7"/></g>
<g transform="translate(1287.6 2529.6) rotate(-60.9)"><path d="M-11.3 0C-10 -3.8 -6.2 -6.6 0 -6.6C6.2 -6.6 10 -3.8 11.3 0C10 3.8 6.2 6.6 0 6.6C-6.2 6.6 -10 3.8 -11.3 0Z" class="b"/><path d="M11.3 0C10 3.8 6.2 6.6 0 6.6C3.4 4.6 6.8 3 11.3 0Z" fill="#1c168e"/><ellipse cx="-9.1" cy="2" rx="1.1" ry="0.8" fill="#b3b0f7"/></g>
<g transform="translate(1298 2511) rotate(-60.9)"><path d="M-11.3 0C-10 -3.8 -6.2 -6.6 0 -6.6C6.2 -6.6 10 -3.8 11.3 0C10 3.8 6.2 6.6 0 6.6C-6.2 6.6 -10 3.8 -11.3 0Z" class="b"/><path d="M11.3 0C10 3.8 6.2 6.6 0 6.6C3.4 4.6 6.8 3 11.3 0Z" fill="#1c168e"/><ellipse cx="-9.1" cy="2" rx="1.1" ry="0.8" fill="#b3b0f7"/></g>
<g transform="translate(1308.4 2492.3) rotate(-60.9)"><path d="M-11.3 0C-10 -3.8 -6.2 -6.6 0 -6.6C6.2 -6.6 10 -3.8 11.3 0C10 3.8 6.2 6.6 0 6.6C-6.2 6.6 -10 3.8 -11.3 0Z" class="b"/><path d="M11.3 0C10 3.8 6.2 6.6 0 6.6C3.4 4.6 6.8 3 11.3 0Z" fill="#1c168e"/><ellipse cx="-9.1" cy="2" rx="1.1" ry="0.8" fill="#b3b0f7"/></g>
<g transform="translate(1365.2 2575.5) rotate(-90)"><path d="M-11.4 0C-10 -3.8 -6.3 -6.6 0 -6.6C6.3 -6.6 10 -3.8 11.4 0C10 3.8 6.3 6.6 0 6.6C-6.3 6.6 -10 3.8 -11.4 0Z" class="b"/><path d="M11.4 0C10 3.8 6.3 6.6 0 6.6C3.4 4.6 6.8 3 11.4 0Z" fill="#1c168e"/><ellipse cx="-9.1" cy="2" rx="1.1" ry="0.8" fill="#b3b0f7"/></g>
<g transform="translate(1365.2 2554) rotate(-90)"><path d="M-11.4 0C-10 -3.8 -6.3 -6.6 0 -6.6C6.3 -6.6 10 -3.8 11.4 0C10 3.8 6.3 6.6 0 6.6C-6.3 6.6 -10 3.8 -11.4 0Z" class="b"/><path d="M11.4 0C10 3.8 6.3 6.6 0 6.6C3.4 4.6 6.8 3 11.4 0Z" fill="#1c168e"/><ellipse cx="-9.1" cy="2" rx="1.1" ry="0.8" fill="#b3b0f7"/></g>
<g transform="translate(1365.2 2532.5) rotate(-90)"><path d="M-11.4 0C-10 -3.8 -6.3 -6.6 0 -6.6C6.3 -6.6 10 -3.8 11.4 0C10 3.8 6.3 6.6 0 6.6C-6.3 6.6 -10 3.8 -11.4 0Z" class="b"/><path d="M11.4 0C10 3.8 6.3 6.6 0 6.6C3.4 4.6 6.8 3 11.4 0Z" fill="#1c168e"/><ellipse cx="-9.1" cy="2" rx="1.1" ry="0.8" fill="#b3b0f7"/></g>
<g transform="translate(1365.2 2511) rotate(-90)"><path d="M-11.4 0C-10 -3.8 -6.3 -6.6 0 -6.6C6.3 -6.6 10 -3.8 11.4 0C10 3.8 6.3 6.6 0 6.6C-6.3 6.6 -10 3.8 -11.4 0Z" class="b"/><path d="M11.4 0C10 3.8 6.3 6.6 0 6.6C3.4 4.6 6.8 3 11.4 0Z" fill="#1c168e"/><ellipse cx="-9.1" cy="2" rx="1.1" ry="0.8" fill="#b3b0f7"/></g>
<g transform="translate(1443.2 2564.6) rotate(-110.2)"><path d="M-11.5 0C-10.2 -3.8 -6.4 -6.6 0 -6.6C6.4 -6.6 10.2 -3.8 11.5 0C10.2 3.8 6.4 6.6 0 6.6C-6.4 6.6 -10.2 3.8 -11.5 0Z" class="b"/><path d="M11.5 0C10.2 3.8 6.4 6.6 0 6.6C3.5 4.6 6.9 3 11.5 0Z" fill="#1c168e"/><ellipse cx="-9.2" cy="2" rx="1.1" ry="0.8" fill="#b3b0f7"/></g>
<g transform="translate(1435.7 2544.1) rotate(-110.2)"><path d="M-11.5 0C-10.2 -3.8 -6.4 -6.6 0 -6.6C6.4 -6.6 10.2 -3.8 11.5 0C10.2 3.8 6.4 6.6 0 6.6C-6.4 6.6 -10.2 3.8 -11.5 0Z" class="b"/><path d="M11.5 0C10.2 3.8 6.4 6.6 0 6.6C3.5 4.6 6.9 3 11.5 0Z" fill="#1c168e"/><ellipse cx="-9.2" cy="2" rx="1.1" ry="0.8" fill="#b3b0f7"/></g>
<g transform="translate(1428.2 2523.7) rotate(-110.2)"><path d="M-11.5 0C-10.2 -3.8 -6.4 -6.6 0 -6.6C6.4 -6.6 10.2 -3.8 11.5 0C10.2 3.8 6.4 6.6 0 6.6C-6.4 6.6 -10.2 3.8 -11.5 0Z" class="b"/><path d="M11.5 0C10.2 3.8 6.4 6.6 0 6.6C3.5 4.6 6.9 3 11.5 0Z" fill="#1c168e"/><ellipse cx="-9.2" cy="2" rx="1.1" ry="0.8" fill="#b3b0f7"/></g>
<g transform="translate(1420.7 2503.2) rotate(-110.2)"><path d="M-11.5 0C-10.2 -3.8 -6.4 -6.6 0 -6.6C6.4 -6.6 10.2 -3.8 11.5 0C10.2 3.8 6.4 6.6 0 6.6C-6.4 6.6 -10.2 3.8 -11.5 0Z" class="b"/><path d="M11.5 0C10.2 3.8 6.4 6.6 0 6.6C3.5 4.6 6.9 3 11.5 0Z" fill="#1c168e"/><ellipse cx="-9.2" cy="2" rx="1.1" ry="0.8" fill="#b3b0f7"/></g>
<g transform="translate(1511.3 2522.9) rotate(-135)"><path d="M-11.3 0C-9.9 -3.8 -6.2 -6.6 0 -6.6C6.2 -6.6 9.9 -3.8 11.3 0C9.9 3.8 6.2 6.6 0 6.6C-6.2 6.6 -9.9 3.8 -11.3 0Z" class="b"/><path d="M11.3 0C9.9 3.8 6.2 6.6 0 6.6C3.4 4.6 6.8 3 11.3 0Z" fill="#1c168e"/><ellipse cx="-9" cy="2" rx="1.1" ry="0.8" fill="#b3b0f7"/></g>
<g transform="translate(1496.2 2507.8) rotate(-135)"><path d="M-11.3 0C-9.9 -3.8 -6.2 -6.6 0 -6.6C6.2 -6.6 9.9 -3.8 11.3 0C9.9 3.8 6.2 6.6 0 6.6C-6.2 6.6 -9.9 3.8 -11.3 0Z" class="b"/><path d="M11.3 0C9.9 3.8 6.2 6.6 0 6.6C3.4 4.6 6.8 3 11.3 0Z" fill="#1c168e"/><ellipse cx="-9" cy="2" rx="1.1" ry="0.8" fill="#b3b0f7"/></g>
<g transform="translate(1481.1 2492.7) rotate(-135)"><path d="M-11.3 0C-9.9 -3.8 -6.2 -6.6 0 -6.6C6.2 -6.6 9.9 -3.8 11.3 0C9.9 3.8 6.2 6.6 0 6.6C-6.2 6.6 -9.9 3.8 -11.3 0Z" class="b"/><path d="M11.3 0C9.9 3.8 6.2 6.6 0 6.6C3.4 4.6 6.8 3 11.3 0Z" fill="#1c168e"/><ellipse cx="-9" cy="2" rx="1.1" ry="0.8" fill="#b3b0f7"/></g>
<g transform="translate(1466 2477.6) rotate(-135)"><path d="M-11.3 0C-9.9 -3.8 -6.2 -6.6 0 -6.6C6.2 -6.6 9.9 -3.8 11.3 0C9.9 3.8 6.2 6.6 0 6.6C-6.2 6.6 -9.9 3.8 -11.3 0Z" class="b"/><path d="M11.3 0C9.9 3.8 6.2 6.6 0 6.6C3.4 4.6 6.8 3 11.3 0Z" fill="#1c168e"/><ellipse cx="-9" cy="2" rx="1.1" ry="0.8" fill="#b3b0f7"/></g>
<g transform="translate(1556.6 2461) rotate(-153)"><path d="M-11.3 0C-9.9 -3.8 -6.2 -6.6 0 -6.6C6.2 -6.6 9.9 -3.8 11.3 0C9.9 3.8 6.2 6.6 0 6.6C-6.2 6.6 -9.9 3.8 -11.3 0Z" class="b"/><path d="M11.3 0C9.9 3.8 6.2 6.6 0 6.6C3.4 4.6 6.8 3 11.3 0Z" fill="#1c168e"/><ellipse cx="-9" cy="2" rx="1.1" ry="0.8" fill="#b3b0f7"/></g>
<g transform="translate(1537.6 2451.2) rotate(-153)"><path d="M-11.3 0C-9.9 -3.8 -6.2 -6.6 0 -6.6C6.2 -6.6 9.9 -3.8 11.3 0C9.9 3.8 6.2 6.6 0 6.6C-6.2 6.6 -9.9 3.8 -11.3 0Z" class="b"/><path d="M11.3 0C9.9 3.8 6.2 6.6 0 6.6C3.4 4.6 6.8 3 11.3 0Z" fill="#1c168e"/><ellipse cx="-9" cy="2" rx="1.1" ry="0.8" fill="#b3b0f7"/></g>
<g transform="translate(1518.6 2441.6) rotate(-153)"><path d="M-11.3 0C-9.9 -3.8 -6.2 -6.6 0 -6.6C6.2 -6.6 9.9 -3.8 11.3 0C9.9 3.8 6.2 6.6 0 6.6C-6.2 6.6 -9.9 3.8 -11.3 0Z" class="b"/><path d="M11.3 0C9.9 3.8 6.2 6.6 0 6.6C3.4 4.6 6.8 3 11.3 0Z" fill="#1c168e"/><ellipse cx="-9" cy="2" rx="1.1" ry="0.8" fill="#b3b0f7"/></g>
<g transform="translate(1499.6 2431.8) rotate(-153)"><path d="M-11.3 0C-9.9 -3.8 -6.2 -6.6 0 -6.6C6.2 -6.6 9.9 -3.8 11.3 0C9.9 3.8 6.2 6.6 0 6.6C-6.2 6.6 -9.9 3.8 -11.3 0Z" class="b"/><path d="M11.3 0C9.9 3.8 6.2 6.6 0 6.6C3.4 4.6 6.8 3 11.3 0Z" fill="#1c168e"/><ellipse cx="-9" cy="2" rx="1.1" ry="0.8" fill="#b3b0f7"/></g>
<g transform="translate(1581.2 2371.3) rotate(179.1)"><path d="M-11.4 0C-10 -3.8 -6.3 -6.6 0 -6.6C6.3 -6.6 10 -3.8 11.4 0C10 3.8 6.3 6.6 0 6.6C-6.3 6.6 -10 3.8 -11.4 0Z" class="b"/><path d="M11.4 0C10 3.8 6.3 6.6 0 6.6C3.4 4.6 6.8 3 11.4 0Z" fill="#1c168e"/><ellipse cx="-9.1" cy="2" rx="1.1" ry="0.8" fill="#b3b0f7"/></g>
<g transform="translate(1559.7 2371.6) rotate(179.1)"><path d="M-11.4 0C-10 -3.8 -6.3 -6.6 0 -6.6C6.3 -6.6 10 -3.8 11.4 0C10 3.8 6.3 6.6 0 6.6C-6.3 6.6 -10 3.8 -11.4 0Z" class="b"/><path d="M11.4 0C10 3.8 6.3 6.6 0 6.6C3.4 4.6 6.8 3 11.4 0Z" fill="#1c168e"/><ellipse cx="-9.1" cy="2" rx="1.1" ry="0.8" fill="#b3b0f7"/></g>
<g transform="translate(1538.2 2372) rotate(179.1)"><path d="M-11.4 0C-10 -3.8 -6.3 -6.6 0 -6.6C6.3 -6.6 10 -3.8 11.4 0C10 3.8 6.3 6.6 0 6.6C-6.3 6.6 -10 3.8 -11.4 0Z" class="b"/><path d="M11.4 0C10 3.8 6.3 6.6 0 6.6C3.4 4.6 6.8 3 11.4 0Z" fill="#1c168e"/><ellipse cx="-9.1" cy="2" rx="1.1" ry="0.8" fill="#b3b0f7"/></g>
<g transform="translate(1516.7 2372.3) rotate(179.1)"><path d="M-11.4 0C-10 -3.8 -6.3 -6.6 0 -6.6C6.3 -6.6 10 -3.8 11.4 0C10 3.8 6.3 6.6 0 6.6C-6.3 6.6 -10 3.8 -11.4 0Z" class="b"/><path d="M11.4 0C10 3.8 6.3 6.6 0 6.6C3.4 4.6 6.8 3 11.4 0Z" fill="#1c168e"/><ellipse cx="-9.1" cy="2" rx="1.1" ry="0.8" fill="#b3b0f7"/></g>
<g transform="translate(1567.6 2295.6) rotate(161.3)"><path d="M-11.2 0C-9.9 -3.8 -6.2 -6.6 0 -6.6C6.2 -6.6 9.9 -3.8 11.2 0C9.9 3.8 6.2 6.6 0 6.6C-6.2 6.6 -9.9 3.8 -11.2 0Z" class="b"/><path d="M11.2 0C9.9 3.8 6.2 6.6 0 6.6C3.4 4.6 6.7 3 11.2 0Z" fill="#1c168e"/><ellipse cx="-9" cy="2" rx="1.1" ry="0.8" fill="#b3b0f7"/></g>
<g transform="translate(1547.5 2302.4) rotate(161.3)"><path d="M-11.2 0C-9.9 -3.8 -6.2 -6.6 0 -6.6C6.2 -6.6 9.9 -3.8 11.2 0C9.9 3.8 6.2 6.6 0 6.6C-6.2 6.6 -9.9 3.8 -11.2 0Z" class="b"/><path d="M11.2 0C9.9 3.8 6.2 6.6 0 6.6C3.4 4.6 6.7 3 11.2 0Z" fill="#1c168e"/><ellipse cx="-9" cy="2" rx="1.1" ry="0.8" fill="#b3b0f7"/></g>
<g transform="translate(1527.4 2309.2) rotate(161.3)"><path d="M-11.2 0C-9.9 -3.8 -6.2 -6.6 0 -6.6C6.2 -6.6 9.9 -3.8 11.2 0C9.9 3.8 6.2 6.6 0 6.6C-6.2 6.6 -9.9 3.8 -11.2 0Z" class="b"/><path d="M11.2 0C9.9 3.8 6.2 6.6 0 6.6C3.4 4.6 6.7 3 11.2 0Z" fill="#1c168e"/><ellipse cx="-9" cy="2" rx="1.1" ry="0.8" fill="#b3b0f7"/></g>
<g transform="translate(1507.3 2316) rotate(161.3)"><path d="M-11.2 0C-9.9 -3.8 -6.2 -6.6 0 -6.6C6.2 -6.6 9.9 -3.8 11.2 0C9.9 3.8 6.2 6.6 0 6.6C-6.2 6.6 -9.9 3.8 -11.2 0Z" class="b"/><path d="M11.2 0C9.9 3.8 6.2 6.6 0 6.6C3.4 4.6 6.7 3 11.2 0Z" fill="#1c168e"/><ellipse cx="-9" cy="2" rx="1.1" ry="0.8" fill="#b3b0f7"/></g>
<g transform="translate(1535.3 2234.8) rotate(137.8)"><path d="M-11.3 0C-10 -3.8 -6.2 -6.6 0 -6.6C6.2 -6.6 10 -3.8 11.3 0C10 3.8 6.2 6.6 0 6.6C-6.2 6.6 -10 3.8 -11.3 0Z" class="b"/><path d="M11.3 0C10 3.8 6.2 6.6 0 6.6C3.4 4.6 6.8 3 11.3 0Z" fill="#1c168e"/><ellipse cx="-9" cy="2" rx="1.1" ry="0.8" fill="#b3b0f7"/></g>
<g transform="translate(1519.5 2249.1) rotate(137.8)"><path d="M-11.3 0C-10 -3.8 -6.2 -6.6 0 -6.6C6.2 -6.6 10 -3.8 11.3 0C10 3.8 6.2 6.6 0 6.6C-6.2 6.6 -10 3.8 -11.3 0Z" class="b"/><path d="M11.3 0C10 3.8 6.2 6.6 0 6.6C3.4 4.6 6.8 3 11.3 0Z" fill="#1c168e"/><ellipse cx="-9" cy="2" rx="1.1" ry="0.8" fill="#b3b0f7"/></g>
<g transform="translate(1503.7 2263.5) rotate(137.8)"><path d="M-11.3 0C-10 -3.8 -6.2 -6.6 0 -6.6C6.2 -6.6 10 -3.8 11.3 0C10 3.8 6.2 6.6 0 6.6C-6.2 6.6 -10 3.8 -11.3 0Z" class="b"/><path d="M11.3 0C10 3.8 6.2 6.6 0 6.6C3.4 4.6 6.8 3 11.3 0Z" fill="#1c168e"/><ellipse cx="-9" cy="2" rx="1.1" ry="0.8" fill="#b3b0f7"/></g>
<g transform="translate(1487.9 2277.8) rotate(137.8)"><path d="M-11.3 0C-10 -3.8 -6.2 -6.6 0 -6.6C6.2 -6.6 10 -3.8 11.3 0C10 3.8 6.2 6.6 0 6.6C-6.2 6.6 -10 3.8 -11.3 0Z" class="b"/><path d="M11.3 0C10 3.8 6.2 6.6 0 6.6C3.4 4.6 6.8 3 11.3 0Z" fill="#1c168e"/><ellipse cx="-9" cy="2" rx="1.1" ry="0.8" fill="#b3b0f7"/></g>
<g transform="translate(1474.8 2186.4) rotate(120.1)"><path d="M-11 0C-9.7 -3.8 -6 -6.6 0 -6.6C6 -6.6 9.7 -3.8 11 0C9.7 3.8 6 6.6 0 6.6C-6 6.6 -9.7 3.8 -11 0Z" class="b"/><path d="M11 0C9.7 3.8 6 6.6 0 6.6C3.3 4.6 6.6 3 11 0Z" fill="#1c168e"/><ellipse cx="-8.8" cy="2" rx="1.1" ry="0.8" fill="#b3b0f7"/></g>
<g transform="translate(1464.4 2204.3) rotate(120.1)"><path d="M-11 0C-9.7 -3.8 -6 -6.6 0 -6.6C6 -6.6 9.7 -3.8 11 0C9.7 3.8 6 6.6 0 6.6C-6 6.6 -9.7 3.8 -11 0Z" class="b"/><path d="M11 0C9.7 3.8 6 6.6 0 6.6C3.3 4.6 6.6 3 11 0Z" fill="#1c168e"/><ellipse cx="-8.8" cy="2" rx="1.1" ry="0.8" fill="#b3b0f7"/></g>
<g transform="translate(1454 2222.2) rotate(120.1)"><path d="M-11 0C-9.7 -3.8 -6 -6.6 0 -6.6C6 -6.6 9.7 -3.8 11 0C9.7 3.8 6 6.6 0 6.6C-6 6.6 -9.7 3.8 -11 0Z" class="b"/><path d="M11 0C9.7 3.8 6 6.6 0 6.6C3.3 4.6 6.6 3 11 0Z" fill="#1c168e"/><ellipse cx="-8.8" cy="2" rx="1.1" ry="0.8" fill="#b3b0f7"/></g>
<g transform="translate(1443.6 2240.1) rotate(120.1)"><path d="M-11 0C-9.7 -3.8 -6 -6.6 0 -6.6C6 -6.6 9.7 -3.8 11 0C9.7 3.8 6 6.6 0 6.6C-6 6.6 -9.7 3.8 -11 0Z" class="b"/><path d="M11 0C9.7 3.8 6 6.6 0 6.6C3.3 4.6 6.6 3 11 0Z" fill="#1c168e"/><ellipse cx="-8.8" cy="2" rx="1.1" ry="0.8" fill="#b3b0f7"/></g>
<g transform="translate(1385.3 2233.3) rotate(91.1)"><rect x="0.8" y="-6.7" width="19.1" height="13.3" class="m"/><rect x="21.5" y="-6.7" width="19.1" height="13.3" class="m"/><rect x="42.2" y="-6.7" width="19.1" height="13.3" class="m"/><rect x="62.9" y="-6.7" width="19.1" height="13.3" class="m"/><path d="M20.7 -6V6M41.4 -6V6M62.1 -6V6" class="g"/></g>
<g transform="translate(1333.7 2240.5) rotate(72.7)"><rect x="0.8" y="-6.7" width="19.1" height="13.3" class="m"/><rect x="21.5" y="-6.7" width="19.1" height="13.3" class="m"/><rect x="42.2" y="-6.7" width="19.1" height="13.3" class="m"/><rect x="62.9" y="-6.7" width="19.1" height="13.3" class="m"/><path d="M20.7 -6V6M41.4 -6V6M62.1 -6V6" class="g"/></g>
<g transform="translate(1296.4 2253.4) rotate(52.3)"><rect x="0.8" y="-6.7" width="19.1" height="13.3" class="m"/><rect x="21.5" y="-6.7" width="19.1" height="13.3" class="m"/><rect x="42.2" y="-6.7" width="19.1" height="13.3" class="m"/><rect x="62.9" y="-6.7" width="19.1" height="13.3" class="m"/><path d="M20.7 -6V6M41.4 -6V6M62.1 -6V6" class="g"/></g>
<g transform="translate(1260.5 2293.6) rotate(29.1)"><rect x="0.8" y="-6.7" width="19.1" height="13.3" class="m"/><rect x="21.5" y="-6.7" width="19.1" height="13.3" class="m"/><rect x="42.2" y="-6.7" width="19.1" height="13.3" class="m"/><rect x="62.9" y="-6.7" width="19.1" height="13.3" class="m"/><path d="M20.7 -6V6M41.4 -6V6M62.1 -6V6" class="g"/></g>
<g transform="translate(1240.4 2346.7) rotate(2.1)"><rect x="0.8" y="-6.7" width="19.1" height="13.3" class="m"/><rect x="21.5" y="-6.7" width="19.1" height="13.3" class="m"/><rect x="42.2" y="-6.7" width="19.1" height="13.3" class="m"/><rect x="62.9" y="-6.7" width="19.1" height="13.3" class="m"/><path d="M20.7 -6V6M41.4 -6V6M62.1 -6V6" class="g"/></g>
<g transform="translate(1244.7 2396.9) rotate(-16.3)"><rect x="0.8" y="-6.7" width="19.1" height="13.3" class="m"/><rect x="21.5" y="-6.7" width="19.1" height="13.3" class="m"/><rect x="42.2" y="-6.7" width="19.1" height="13.3" class="m"/><rect x="62.9" y="-6.7" width="19.1" height="13.3" class="m"/><path d="M20.7 -6V6M41.4 -6V6M62.1 -6V6" class="g"/></g>
<g transform="translate(1270.5 2448.6) rotate(-41.5)"><rect x="0.8" y="-6.7" width="19.1" height="13.3" class="m"/><rect x="21.5" y="-6.7" width="19.1" height="13.3" class="m"/><rect x="42.2" y="-6.7" width="19.1" height="13.3" class="m"/><rect x="62.9" y="-6.7" width="19.1" height="13.3" class="m"/><path d="M20.7 -6V6M41.4 -6V6M62.1 -6V6" class="g"/></g>
<g transform="translate(1315 2478.7) rotate(-61.5)"><rect x="0.8" y="-6.7" width="19.1" height="13.3" class="m"/><rect x="21.5" y="-6.7" width="19.1" height="13.3" class="m"/><rect x="42.2" y="-6.7" width="19.1" height="13.3" class="m"/><rect x="62.9" y="-6.7" width="19.1" height="13.3" class="m"/><path d="M20.7 -6V6M41.4 -6V6M62.1 -6V6" class="g"/></g>
<g transform="translate(1366.7 2498.8) rotate(-90)"><rect x="0.8" y="-6.7" width="19.1" height="13.3" class="m"/><rect x="21.5" y="-6.7" width="19.1" height="13.3" class="m"/><rect x="42.2" y="-6.7" width="19.1" height="13.3" class="m"/><rect x="62.9" y="-6.7" width="19.1" height="13.3" class="m"/><path d="M20.7 -6V6M41.4 -6V6M62.1 -6V6" class="g"/></g>
<g transform="translate(1416.9 2491.6) rotate(-107.2)"><rect x="0.8" y="-6.7" width="19.1" height="13.3" class="m"/><rect x="21.5" y="-6.7" width="19.1" height="13.3" class="m"/><rect x="42.2" y="-6.7" width="19.1" height="13.3" class="m"/><rect x="62.9" y="-6.7" width="19.1" height="13.3" class="m"/><path d="M20.7 -6V6M41.4 -6V6M62.1 -6V6" class="g"/></g>
<g transform="translate(1458.5 2468.7) rotate(-137.9)"><rect x="0.8" y="-6.7" width="19.1" height="13.3" class="m"/><rect x="21.5" y="-6.7" width="19.1" height="13.3" class="m"/><rect x="42.2" y="-6.7" width="19.1" height="13.3" class="m"/><rect x="62.9" y="-6.7" width="19.1" height="13.3" class="m"/><path d="M20.7 -6V6M41.4 -6V6M62.1 -6V6" class="g"/></g>
<g transform="translate(1490.1 2425.6) rotate(-154.7)"><rect x="0.8" y="-6.7" width="19.1" height="13.3" class="m"/><rect x="21.5" y="-6.7" width="19.1" height="13.3" class="m"/><rect x="42.2" y="-6.7" width="19.1" height="13.3" class="m"/><rect x="62.9" y="-6.7" width="19.1" height="13.3" class="m"/><path d="M20.7 -6V6M41.4 -6V6M62.1 -6V6" class="g"/></g>
<g transform="translate(1505.9 2374) rotate(178.8)"><rect x="0.8" y="-6.7" width="19.1" height="13.3" class="m"/><rect x="21.5" y="-6.7" width="19.1" height="13.3" class="m"/><rect x="42.2" y="-6.7" width="19.1" height="13.3" class="m"/><rect x="62.9" y="-6.7" width="19.1" height="13.3" class="m"/><path d="M20.7 -6V6M41.4 -6V6M62.1 -6V6" class="g"/></g>
<g transform="translate(1497.3 2322.3) rotate(164.1)"><rect x="0.8" y="-6.7" width="19.1" height="13.3" class="m"/><rect x="21.5" y="-6.7" width="19.1" height="13.3" class="m"/><rect x="42.2" y="-6.7" width="19.1" height="13.3" class="m"/><rect x="62.9" y="-6.7" width="19.1" height="13.3" class="m"/><path d="M20.7 -6V6M41.4 -6V6M62.1 -6V6" class="g"/></g>
<g transform="translate(1480 2286.4) rotate(140.4)"><rect x="0.8" y="-6.7" width="19.1" height="13.3" class="m"/><rect x="21.5" y="-6.7" width="19.1" height="13.3" class="m"/><rect x="42.2" y="-6.7" width="19.1" height="13.3" class="m"/><rect x="62.9" y="-6.7" width="19.1" height="13.3" class="m"/><path d="M20.7 -6V6M41.4 -6V6M62.1 -6V6" class="g"/></g>
<g transform="translate(1438.4 2250.5) rotate(121.3)"><rect x="0.8" y="-6.7" width="19.1" height="13.3" class="m"/><rect x="21.5" y="-6.7" width="19.1" height="13.3" class="m"/><rect x="42.2" y="-6.7" width="19.1" height="13.3" class="m"/><rect x="62.9" y="-6.7" width="19.1" height="13.3" class="m"/><path d="M20.7 -6V6M41.4 -6V6M62.1 -6V6" class="g"/></g>
<circle cx="1376.6" cy="2370.1" r="65.3" fill="#000"/>
</svg></body></html>
